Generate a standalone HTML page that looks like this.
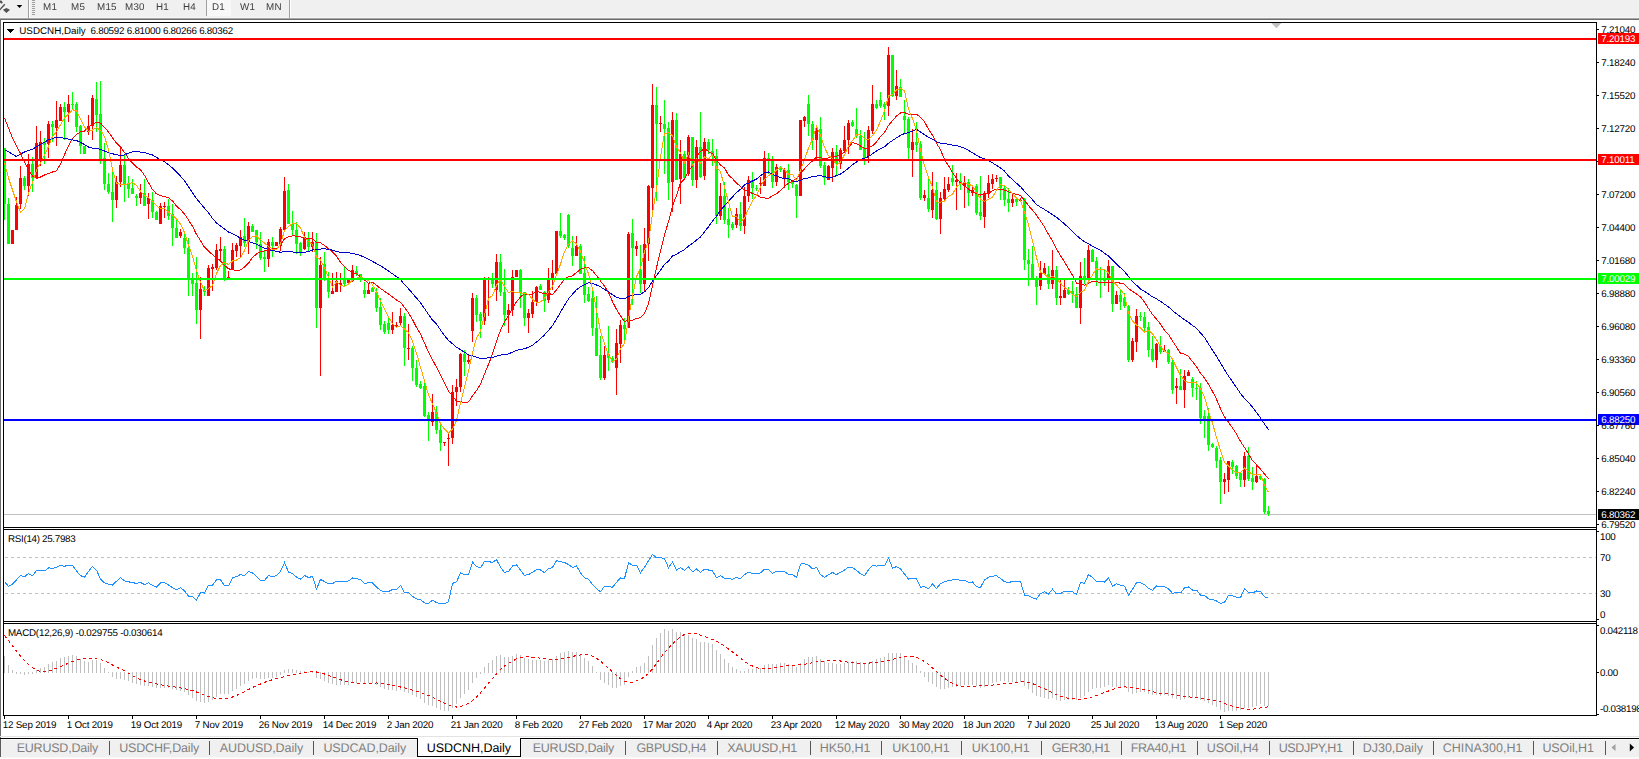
<!DOCTYPE html>
<html><head><meta charset="utf-8"><title>USDCNH,Daily</title>
<style>
html,body{margin:0;padding:0;background:#fff;}
body{width:1639px;height:759px;overflow:hidden;position:relative;font-family:"Liberation Sans",sans-serif;}
svg{position:absolute;left:0;top:0;}
.t{position:absolute;white-space:nowrap;font-family:"Liberation Sans",sans-serif;line-height:13px;text-rendering:geometricPrecision;}
</style></head><body>
<svg width="1639" height="759" viewBox="0 0 1639 759" shape-rendering="crispEdges">
<rect x="0" y="0" width="1639" height="18" fill="#f0f0f0"/>
<rect x="0" y="17" width="1639" height="1" fill="#f7f7f7"/>
<rect x="0" y="18" width="1639" height="1" fill="#a5a5a5"/>
<rect x="0" y="19" width="1639" height="1" fill="#6e6e6e"/>
<rect x="0" y="19" width="1" height="719" fill="#6e6e6e"/>
<rect x="28" y="0" width="1" height="18" fill="#a0a0a0"/>
<rect x="29" y="0" width="1" height="18" fill="#ffffff"/>
<rect x="206" y="0" width="1" height="16" fill="#a0a0a0"/>
<rect x="207" y="0" width="24" height="16" fill="#f8f8f8"/>
<rect x="289" y="0" width="1" height="18" fill="#a0a0a0"/>
<rect x="290" y="0" width="1" height="18" fill="#ffffff"/>
<rect x="32" y="0" width="3" height="1" fill="#a0a0a0"/>
<rect x="32" y="2" width="3" height="1" fill="#a0a0a0"/>
<rect x="32" y="4" width="3" height="1" fill="#a0a0a0"/>
<rect x="32" y="6" width="3" height="1" fill="#a0a0a0"/>
<rect x="32" y="8" width="3" height="1" fill="#a0a0a0"/>
<rect x="32" y="10" width="3" height="1" fill="#a0a0a0"/>
<rect x="32" y="12" width="3" height="1" fill="#a0a0a0"/>
<rect x="32" y="14" width="3" height="1" fill="#a0a0a0"/>
<rect x="4" y="514" width="1592" height="1" fill="#c0c0c0"/>
<path d="M5,557.5 H1596" stroke="#c0c0c0" stroke-width="1" stroke-dasharray="3,3" fill="none"/>
<path d="M5,593.5 H1596" stroke="#c0c0c0" stroke-width="1" stroke-dasharray="3,3" fill="none"/>
<rect x="1597" y="531" width="2" height="1" fill="#000"/>
<rect x="1597" y="619" width="2" height="1" fill="#000"/>
<rect x="1597" y="625" width="2" height="1" fill="#000"/>
<rect x="1597" y="672" width="2" height="1" fill="#000"/>
<rect x="1597" y="714" width="2" height="1" fill="#000"/>
<path d="M7,29 L14,29 L10.5,33 Z" fill="#000"/>
<rect x="4" y="716" width="1" height="3" fill="#000"/>
<rect x="68" y="716" width="1" height="3" fill="#000"/>
<rect x="132" y="716" width="1" height="3" fill="#000"/>
<rect x="196" y="716" width="1" height="3" fill="#000"/>
<rect x="260" y="716" width="1" height="3" fill="#000"/>
<rect x="324" y="716" width="1" height="3" fill="#000"/>
<rect x="388" y="716" width="1" height="3" fill="#000"/>
<rect x="452" y="716" width="1" height="3" fill="#000"/>
<rect x="516" y="716" width="1" height="3" fill="#000"/>
<rect x="580" y="716" width="1" height="3" fill="#000"/>
<rect x="644" y="716" width="1" height="3" fill="#000"/>
<rect x="708" y="716" width="1" height="3" fill="#000"/>
<rect x="772" y="716" width="1" height="3" fill="#000"/>
<rect x="836" y="716" width="1" height="3" fill="#000"/>
<rect x="900" y="716" width="1" height="3" fill="#000"/>
<rect x="964" y="716" width="1" height="3" fill="#000"/>
<rect x="1028" y="716" width="1" height="3" fill="#000"/>
<rect x="1092" y="716" width="1" height="3" fill="#000"/>
<rect x="1156" y="716" width="1" height="3" fill="#000"/>
<rect x="1220" y="716" width="1" height="3" fill="#000"/>
<rect x="0" y="736" width="1639" height="1" fill="#e3e3e3"/>
<rect x="0" y="738" width="1639" height="19" fill="#f0f0f0"/>
<rect x="0" y="738" width="1639" height="1" fill="#000"/>
<rect x="0" y="739" width="1" height="18" fill="#5c5c5c"/>
<rect x="1" y="739" width="1638" height="1" fill="#fafafa"/>
<rect x="417" y="738" width="104" height="19" fill="#fff"/>
<rect x="417" y="738" width="1" height="19" fill="#000"/>
<rect x="520" y="738" width="1" height="19" fill="#000"/>
<rect x="417" y="756" width="104" height="1" fill="#000"/>
<rect x="109" y="741" width="1" height="14" fill="#555"/>
<rect x="209" y="741" width="1" height="14" fill="#555"/>
<rect x="313" y="741" width="1" height="14" fill="#555"/>
<rect x="625" y="741" width="1" height="14" fill="#555"/>
<rect x="717" y="741" width="1" height="14" fill="#555"/>
<rect x="810" y="741" width="1" height="14" fill="#555"/>
<rect x="881" y="741" width="1" height="14" fill="#555"/>
<rect x="961" y="741" width="1" height="14" fill="#555"/>
<rect x="1041" y="741" width="1" height="14" fill="#555"/>
<rect x="1121" y="741" width="1" height="14" fill="#555"/>
<rect x="1197" y="741" width="1" height="14" fill="#555"/>
<rect x="1269" y="741" width="1" height="14" fill="#555"/>
<rect x="1353" y="741" width="1" height="14" fill="#555"/>
<rect x="1433" y="741" width="1" height="14" fill="#555"/>
<rect x="1533" y="741" width="1" height="14" fill="#555"/>
<rect x="1605" y="741" width="1" height="14" fill="#555"/>
<rect x="0" y="757" width="1639" height="1" fill="#f8f8f8"/>
<rect x="0" y="758" width="1639" height="1" fill="#fff"/>
</svg>
<svg width="1639" height="759" viewBox="0 0 1639 759">
<path d="M0,0.6 L1.4,0.6 L2.8,2.6 L1.6,3.8 L0,2.6 Z" fill="#505050"/><path d="M-0.5,10 L4.8,4.3" stroke="#505050" stroke-width="1.4" fill="none"/><path d="M6.4,8.1 L10,9.7 L6.4,13.1 L2.9,9.7 Z" fill="#505050"/>
<path d="M16.7,4.9 L22.3,4.9 L19.5,8.1 Z" fill="#000"/>
<path d="M1271.3,23 L1281.5,23 L1276.4,28.3 Z" fill="#c0c0c0"/>
<path d="M1611.5,747.5 L1615.5,744 L1615.5,751 Z" fill="#a0a0a0"/>
<path d="M1634,747.5 L1629.8,743.5 L1629.8,751.5 Z" fill="#000"/>
<g shape-rendering="crispEdges"><rect x="4" y="148" width="1" height="72" fill="#00ff00"/><rect x="3" y="148" width="3" height="56" fill="#00ff00"/><rect x="8" y="198" width="1" height="46" fill="#00ff00"/><rect x="7" y="204" width="3" height="40" fill="#00ff00"/><rect x="12" y="230" width="1" height="14" fill="#ff0000"/><rect x="11" y="230" width="3" height="14" fill="#ff0000"/><rect x="16" y="197" width="1" height="33" fill="#ff0000"/><rect x="15" y="205" width="3" height="25" fill="#ff0000"/><rect x="20" y="166" width="1" height="43" fill="#ff0000"/><rect x="19" y="178" width="3" height="26" fill="#ff0000"/><rect x="24" y="176" width="1" height="14" fill="#00ff00"/><rect x="23" y="178" width="3" height="8" fill="#00ff00"/><rect x="28" y="154" width="1" height="42" fill="#ff0000"/><rect x="27" y="164" width="3" height="22" fill="#ff0000"/><rect x="32" y="157" width="1" height="35" fill="#00ff00"/><rect x="31" y="164" width="3" height="14" fill="#00ff00"/><rect x="36" y="126" width="1" height="52" fill="#ff0000"/><rect x="35" y="143" width="3" height="35" fill="#ff0000"/><rect x="40" y="131" width="1" height="35" fill="#ff0000"/><rect x="39" y="142" width="3" height="18" fill="#ff0000"/><rect x="44" y="138" width="1" height="26" fill="#00ff00"/><rect x="43" y="142" width="3" height="3" fill="#00ff00"/><rect x="48" y="121" width="1" height="37" fill="#ff0000"/><rect x="47" y="124" width="3" height="20" fill="#ff0000"/><rect x="52" y="121" width="1" height="21" fill="#00ff00"/><rect x="51" y="124" width="3" height="3" fill="#00ff00"/><rect x="56" y="101" width="1" height="45" fill="#ff0000"/><rect x="55" y="120" width="3" height="8" fill="#ff0000"/><rect x="60" y="104" width="1" height="17" fill="#ff0000"/><rect x="59" y="107" width="3" height="14" fill="#ff0000"/><rect x="64" y="102" width="1" height="38" fill="#00ff00"/><rect x="63" y="107" width="3" height="5" fill="#00ff00"/><rect x="68" y="95" width="1" height="27" fill="#ff0000"/><rect x="67" y="104" width="3" height="8" fill="#ff0000"/><rect x="72" y="92" width="1" height="17" fill="#00ff00"/><rect x="71" y="104" width="3" height="1" fill="#00ff00"/><rect x="76" y="102" width="1" height="30" fill="#00ff00"/><rect x="75" y="104" width="3" height="23" fill="#00ff00"/><rect x="80" y="125" width="1" height="29" fill="#00ff00"/><rect x="79" y="126" width="3" height="20" fill="#00ff00"/><rect x="84" y="146" width="1" height="8" fill="#00ff00"/><rect x="83" y="146" width="3" height="8" fill="#00ff00"/><rect x="88" y="115" width="1" height="20" fill="#ff0000"/><rect x="87" y="126" width="3" height="6" fill="#ff0000"/><rect x="92" y="95" width="1" height="45" fill="#ff0000"/><rect x="91" y="98" width="3" height="28" fill="#ff0000"/><rect x="96" y="82" width="1" height="50" fill="#00ff00"/><rect x="95" y="99" width="3" height="16" fill="#00ff00"/><rect x="100" y="81" width="1" height="83" fill="#00ff00"/><rect x="99" y="114" width="3" height="46" fill="#00ff00"/><rect x="104" y="143" width="1" height="47" fill="#00ff00"/><rect x="103" y="158" width="3" height="26" fill="#00ff00"/><rect x="108" y="173" width="1" height="21" fill="#00ff00"/><rect x="107" y="184" width="3" height="8" fill="#00ff00"/><rect x="112" y="171" width="1" height="51" fill="#00ff00"/><rect x="111" y="192" width="3" height="8" fill="#00ff00"/><rect x="116" y="176" width="1" height="32" fill="#ff0000"/><rect x="115" y="182" width="3" height="18" fill="#ff0000"/><rect x="120" y="146" width="1" height="41" fill="#ff0000"/><rect x="119" y="165" width="3" height="17" fill="#ff0000"/><rect x="124" y="154" width="1" height="48" fill="#00ff00"/><rect x="123" y="165" width="3" height="19" fill="#00ff00"/><rect x="128" y="176" width="1" height="22" fill="#00ff00"/><rect x="127" y="184" width="3" height="5" fill="#00ff00"/><rect x="132" y="179" width="1" height="15" fill="#00ff00"/><rect x="131" y="188" width="3" height="6" fill="#00ff00"/><rect x="136" y="194" width="1" height="12" fill="#00ff00"/><rect x="135" y="196" width="3" height="2" fill="#00ff00"/><rect x="140" y="184" width="1" height="20" fill="#ff0000"/><rect x="139" y="193" width="3" height="5" fill="#ff0000"/><rect x="144" y="179" width="1" height="27" fill="#00ff00"/><rect x="143" y="193" width="3" height="13" fill="#00ff00"/><rect x="148" y="193" width="1" height="26" fill="#ff0000"/><rect x="147" y="198" width="3" height="6" fill="#ff0000"/><rect x="152" y="192" width="1" height="26" fill="#00ff00"/><rect x="151" y="200" width="3" height="12" fill="#00ff00"/><rect x="156" y="211" width="1" height="9" fill="#00ff00"/><rect x="155" y="212" width="3" height="8" fill="#00ff00"/><rect x="160" y="203" width="1" height="21" fill="#ff0000"/><rect x="159" y="206" width="3" height="18" fill="#ff0000"/><rect x="164" y="202" width="1" height="16" fill="#ff0000"/><rect x="163" y="206" width="3" height="1" fill="#ff0000"/><rect x="168" y="199" width="1" height="21" fill="#00ff00"/><rect x="167" y="206" width="3" height="10" fill="#00ff00"/><rect x="172" y="204" width="1" height="42" fill="#00ff00"/><rect x="171" y="214" width="3" height="14" fill="#00ff00"/><rect x="176" y="219" width="1" height="19" fill="#00ff00"/><rect x="175" y="228" width="3" height="10" fill="#00ff00"/><rect x="180" y="229" width="1" height="9" fill="#ff0000"/><rect x="179" y="232" width="3" height="4" fill="#ff0000"/><rect x="184" y="234" width="1" height="20" fill="#00ff00"/><rect x="183" y="238" width="3" height="10" fill="#00ff00"/><rect x="188" y="238" width="1" height="58" fill="#00ff00"/><rect x="187" y="248" width="3" height="32" fill="#00ff00"/><rect x="192" y="273" width="1" height="23" fill="#00ff00"/><rect x="191" y="279" width="3" height="5" fill="#00ff00"/><rect x="196" y="257" width="1" height="67" fill="#00ff00"/><rect x="195" y="283" width="3" height="27" fill="#00ff00"/><rect x="200" y="277" width="1" height="62" fill="#ff0000"/><rect x="199" y="289" width="3" height="21" fill="#ff0000"/><rect x="204" y="286" width="1" height="10" fill="#00ff00"/><rect x="203" y="290" width="3" height="2" fill="#00ff00"/><rect x="208" y="265" width="1" height="31" fill="#ff0000"/><rect x="207" y="268" width="3" height="28" fill="#ff0000"/><rect x="212" y="264" width="1" height="27" fill="#ff0000"/><rect x="211" y="267" width="3" height="2" fill="#ff0000"/><rect x="216" y="244" width="1" height="26" fill="#ff0000"/><rect x="215" y="250" width="3" height="18" fill="#ff0000"/><rect x="220" y="237" width="1" height="25" fill="#ff0000"/><rect x="219" y="249" width="3" height="2" fill="#ff0000"/><rect x="224" y="246" width="1" height="35" fill="#00ff00"/><rect x="223" y="249" width="3" height="29" fill="#00ff00"/><rect x="228" y="271" width="1" height="7" fill="#ff0000"/><rect x="227" y="277" width="3" height="1" fill="#ff0000"/><rect x="232" y="243" width="1" height="27" fill="#ff0000"/><rect x="231" y="250" width="3" height="20" fill="#ff0000"/><rect x="236" y="243" width="1" height="14" fill="#ff0000"/><rect x="235" y="245" width="3" height="6" fill="#ff0000"/><rect x="240" y="230" width="1" height="28" fill="#ff0000"/><rect x="239" y="237" width="3" height="9" fill="#ff0000"/><rect x="244" y="218" width="1" height="29" fill="#00ff00"/><rect x="243" y="236" width="3" height="7" fill="#00ff00"/><rect x="248" y="222" width="1" height="32" fill="#ff0000"/><rect x="247" y="226" width="3" height="16" fill="#ff0000"/><rect x="252" y="224" width="1" height="8" fill="#00ff00"/><rect x="251" y="226" width="3" height="6" fill="#00ff00"/><rect x="256" y="230" width="1" height="19" fill="#00ff00"/><rect x="255" y="230" width="3" height="12" fill="#00ff00"/><rect x="260" y="232" width="1" height="28" fill="#00ff00"/><rect x="259" y="244" width="3" height="14" fill="#00ff00"/><rect x="264" y="251" width="1" height="21" fill="#00ff00"/><rect x="263" y="257" width="3" height="2" fill="#00ff00"/><rect x="268" y="239" width="1" height="28" fill="#ff0000"/><rect x="267" y="242" width="3" height="17" fill="#ff0000"/><rect x="272" y="237" width="1" height="20" fill="#00ff00"/><rect x="271" y="242" width="3" height="4" fill="#00ff00"/><rect x="276" y="242" width="1" height="4" fill="#ff0000"/><rect x="275" y="242" width="3" height="4" fill="#ff0000"/><rect x="280" y="227" width="1" height="24" fill="#ff0000"/><rect x="279" y="229" width="3" height="17" fill="#ff0000"/><rect x="284" y="177" width="1" height="53" fill="#ff0000"/><rect x="283" y="191" width="3" height="39" fill="#ff0000"/><rect x="288" y="184" width="1" height="40" fill="#00ff00"/><rect x="287" y="190" width="3" height="34" fill="#00ff00"/><rect x="292" y="211" width="1" height="24" fill="#00ff00"/><rect x="291" y="224" width="3" height="6" fill="#00ff00"/><rect x="296" y="222" width="1" height="32" fill="#00ff00"/><rect x="295" y="230" width="3" height="14" fill="#00ff00"/><rect x="300" y="242" width="1" height="14" fill="#00ff00"/><rect x="299" y="243" width="3" height="9" fill="#00ff00"/><rect x="304" y="232" width="1" height="18" fill="#ff0000"/><rect x="303" y="237" width="3" height="12" fill="#ff0000"/><rect x="308" y="232" width="1" height="19" fill="#00ff00"/><rect x="307" y="239" width="3" height="8" fill="#00ff00"/><rect x="312" y="232" width="1" height="20" fill="#ff0000"/><rect x="311" y="242" width="3" height="5" fill="#ff0000"/><rect x="316" y="233" width="1" height="95" fill="#00ff00"/><rect x="315" y="242" width="3" height="66" fill="#00ff00"/><rect x="320" y="257" width="1" height="119" fill="#ff0000"/><rect x="319" y="265" width="3" height="43" fill="#ff0000"/><rect x="324" y="252" width="1" height="29" fill="#00ff00"/><rect x="323" y="264" width="3" height="15" fill="#00ff00"/><rect x="328" y="272" width="1" height="26" fill="#00ff00"/><rect x="327" y="280" width="3" height="12" fill="#00ff00"/><rect x="332" y="273" width="1" height="21" fill="#ff0000"/><rect x="331" y="291" width="3" height="3" fill="#ff0000"/><rect x="336" y="272" width="1" height="20" fill="#ff0000"/><rect x="335" y="281" width="3" height="11" fill="#ff0000"/><rect x="340" y="273" width="1" height="19" fill="#ff0000"/><rect x="339" y="283" width="3" height="2" fill="#ff0000"/><rect x="344" y="266" width="1" height="21" fill="#00ff00"/><rect x="343" y="280" width="3" height="4" fill="#00ff00"/><rect x="348" y="278" width="1" height="5" fill="#ff0000"/><rect x="347" y="280" width="3" height="3" fill="#ff0000"/><rect x="352" y="265" width="1" height="17" fill="#ff0000"/><rect x="351" y="270" width="3" height="11" fill="#ff0000"/><rect x="356" y="266" width="1" height="10" fill="#00ff00"/><rect x="355" y="271" width="3" height="3" fill="#00ff00"/><rect x="360" y="274" width="1" height="8" fill="#00ff00"/><rect x="359" y="274" width="3" height="3" fill="#00ff00"/><rect x="364" y="282" width="1" height="16" fill="#00ff00"/><rect x="363" y="290" width="3" height="4" fill="#00ff00"/><rect x="368" y="283" width="1" height="11" fill="#ff0000"/><rect x="367" y="290" width="3" height="4" fill="#ff0000"/><rect x="372" y="287" width="1" height="5" fill="#00ff00"/><rect x="371" y="288" width="3" height="4" fill="#00ff00"/><rect x="376" y="288" width="1" height="24" fill="#00ff00"/><rect x="375" y="292" width="3" height="16" fill="#00ff00"/><rect x="380" y="298" width="1" height="32" fill="#00ff00"/><rect x="379" y="307" width="3" height="18" fill="#00ff00"/><rect x="384" y="321" width="1" height="13" fill="#00ff00"/><rect x="383" y="324" width="3" height="8" fill="#00ff00"/><rect x="388" y="316" width="1" height="18" fill="#00ff00"/><rect x="387" y="323" width="3" height="7" fill="#00ff00"/><rect x="392" y="312" width="1" height="22" fill="#ff0000"/><rect x="391" y="325" width="3" height="5" fill="#ff0000"/><rect x="396" y="322" width="1" height="6" fill="#ff0000"/><rect x="395" y="325" width="3" height="1" fill="#ff0000"/><rect x="400" y="308" width="1" height="18" fill="#ff0000"/><rect x="399" y="316" width="3" height="7" fill="#ff0000"/><rect x="404" y="313" width="1" height="53" fill="#00ff00"/><rect x="403" y="316" width="3" height="32" fill="#00ff00"/><rect x="408" y="324" width="1" height="36" fill="#ff0000"/><rect x="407" y="348" width="3" height="1" fill="#ff0000"/><rect x="412" y="346" width="1" height="35" fill="#00ff00"/><rect x="411" y="348" width="3" height="20" fill="#00ff00"/><rect x="416" y="360" width="1" height="27" fill="#00ff00"/><rect x="415" y="368" width="3" height="17" fill="#00ff00"/><rect x="420" y="381" width="1" height="8" fill="#00ff00"/><rect x="419" y="384" width="3" height="4" fill="#00ff00"/><rect x="424" y="382" width="1" height="35" fill="#00ff00"/><rect x="423" y="386" width="3" height="30" fill="#00ff00"/><rect x="428" y="412" width="1" height="29" fill="#00ff00"/><rect x="427" y="415" width="3" height="5" fill="#00ff00"/><rect x="432" y="394" width="1" height="32" fill="#ff0000"/><rect x="431" y="412" width="3" height="10" fill="#ff0000"/><rect x="436" y="406" width="1" height="28" fill="#00ff00"/><rect x="435" y="412" width="3" height="18" fill="#00ff00"/><rect x="440" y="425" width="1" height="26" fill="#00ff00"/><rect x="439" y="430" width="3" height="13" fill="#00ff00"/><rect x="444" y="442" width="1" height="4" fill="#ff0000"/><rect x="443" y="442" width="3" height="1" fill="#ff0000"/><rect x="448" y="432" width="1" height="34" fill="#ff0000"/><rect x="447" y="438" width="3" height="1" fill="#ff0000"/><rect x="452" y="385" width="1" height="59" fill="#ff0000"/><rect x="451" y="392" width="3" height="46" fill="#ff0000"/><rect x="456" y="379" width="1" height="27" fill="#ff0000"/><rect x="455" y="387" width="3" height="5" fill="#ff0000"/><rect x="460" y="353" width="1" height="39" fill="#ff0000"/><rect x="459" y="354" width="3" height="33" fill="#ff0000"/><rect x="464" y="350" width="1" height="26" fill="#00ff00"/><rect x="463" y="354" width="3" height="8" fill="#00ff00"/><rect x="468" y="355" width="1" height="9" fill="#ff0000"/><rect x="467" y="360" width="3" height="2" fill="#ff0000"/><rect x="472" y="293" width="1" height="49" fill="#ff0000"/><rect x="471" y="298" width="3" height="33" fill="#ff0000"/><rect x="476" y="295" width="1" height="27" fill="#00ff00"/><rect x="475" y="298" width="3" height="17" fill="#00ff00"/><rect x="480" y="312" width="1" height="26" fill="#00ff00"/><rect x="479" y="314" width="3" height="7" fill="#00ff00"/><rect x="484" y="277" width="1" height="48" fill="#ff0000"/><rect x="483" y="280" width="3" height="41" fill="#ff0000"/><rect x="488" y="277" width="1" height="39" fill="#ff0000"/><rect x="487" y="279" width="3" height="1" fill="#ff0000"/><rect x="492" y="273" width="1" height="15" fill="#00ff00"/><rect x="491" y="279" width="3" height="5" fill="#00ff00"/><rect x="496" y="254" width="1" height="47" fill="#ff0000"/><rect x="495" y="262" width="3" height="28" fill="#ff0000"/><rect x="500" y="254" width="1" height="42" fill="#00ff00"/><rect x="499" y="262" width="3" height="30" fill="#00ff00"/><rect x="504" y="269" width="1" height="57" fill="#00ff00"/><rect x="503" y="292" width="3" height="23" fill="#00ff00"/><rect x="508" y="304" width="1" height="29" fill="#ff0000"/><rect x="507" y="310" width="3" height="5" fill="#ff0000"/><rect x="512" y="270" width="1" height="46" fill="#ff0000"/><rect x="511" y="277" width="3" height="33" fill="#ff0000"/><rect x="516" y="270" width="1" height="7" fill="#ff0000"/><rect x="515" y="270" width="3" height="7" fill="#ff0000"/><rect x="520" y="269" width="1" height="39" fill="#00ff00"/><rect x="519" y="270" width="3" height="23" fill="#00ff00"/><rect x="524" y="292" width="1" height="34" fill="#00ff00"/><rect x="523" y="292" width="3" height="26" fill="#00ff00"/><rect x="528" y="309" width="1" height="24" fill="#ff0000"/><rect x="527" y="313" width="3" height="5" fill="#ff0000"/><rect x="532" y="291" width="1" height="27" fill="#ff0000"/><rect x="531" y="302" width="3" height="12" fill="#ff0000"/><rect x="536" y="286" width="1" height="20" fill="#ff0000"/><rect x="535" y="287" width="3" height="15" fill="#ff0000"/><rect x="540" y="284" width="1" height="6" fill="#00ff00"/><rect x="539" y="286" width="3" height="4" fill="#00ff00"/><rect x="544" y="291" width="1" height="21" fill="#00ff00"/><rect x="543" y="292" width="3" height="9" fill="#00ff00"/><rect x="548" y="268" width="1" height="35" fill="#ff0000"/><rect x="547" y="280" width="3" height="20" fill="#ff0000"/><rect x="552" y="260" width="1" height="30" fill="#ff0000"/><rect x="551" y="273" width="3" height="7" fill="#ff0000"/><rect x="556" y="231" width="1" height="43" fill="#ff0000"/><rect x="555" y="231" width="3" height="43" fill="#ff0000"/><rect x="560" y="213" width="1" height="25" fill="#00ff00"/><rect x="559" y="231" width="3" height="5" fill="#00ff00"/><rect x="564" y="234" width="1" height="6" fill="#00ff00"/><rect x="563" y="235" width="3" height="3" fill="#00ff00"/><rect x="568" y="214" width="1" height="34" fill="#00ff00"/><rect x="567" y="215" width="3" height="31" fill="#00ff00"/><rect x="572" y="236" width="1" height="30" fill="#00ff00"/><rect x="571" y="248" width="3" height="8" fill="#00ff00"/><rect x="576" y="236" width="1" height="20" fill="#ff0000"/><rect x="575" y="246" width="3" height="10" fill="#ff0000"/><rect x="580" y="244" width="1" height="30" fill="#00ff00"/><rect x="579" y="246" width="3" height="28" fill="#00ff00"/><rect x="584" y="256" width="1" height="47" fill="#00ff00"/><rect x="583" y="273" width="3" height="22" fill="#00ff00"/><rect x="588" y="287" width="1" height="15" fill="#00ff00"/><rect x="587" y="294" width="3" height="7" fill="#00ff00"/><rect x="592" y="290" width="1" height="46" fill="#00ff00"/><rect x="591" y="298" width="3" height="30" fill="#00ff00"/><rect x="596" y="296" width="1" height="60" fill="#00ff00"/><rect x="595" y="328" width="3" height="28" fill="#00ff00"/><rect x="600" y="336" width="1" height="44" fill="#00ff00"/><rect x="599" y="355" width="3" height="23" fill="#00ff00"/><rect x="604" y="346" width="1" height="34" fill="#ff0000"/><rect x="603" y="355" width="3" height="23" fill="#ff0000"/><rect x="608" y="326" width="1" height="45" fill="#00ff00"/><rect x="607" y="354" width="3" height="4" fill="#00ff00"/><rect x="612" y="356" width="1" height="7" fill="#00ff00"/><rect x="611" y="358" width="3" height="4" fill="#00ff00"/><rect x="616" y="329" width="1" height="66" fill="#ff0000"/><rect x="615" y="343" width="3" height="25" fill="#ff0000"/><rect x="620" y="320" width="1" height="43" fill="#ff0000"/><rect x="619" y="325" width="3" height="19" fill="#ff0000"/><rect x="624" y="318" width="1" height="22" fill="#00ff00"/><rect x="623" y="325" width="3" height="4" fill="#00ff00"/><rect x="628" y="232" width="1" height="96" fill="#ff0000"/><rect x="627" y="234" width="3" height="94" fill="#ff0000"/><rect x="632" y="219" width="1" height="86" fill="#00ff00"/><rect x="631" y="233" width="3" height="15" fill="#00ff00"/><rect x="636" y="241" width="1" height="15" fill="#ff0000"/><rect x="635" y="246" width="3" height="3" fill="#ff0000"/><rect x="640" y="245" width="1" height="48" fill="#00ff00"/><rect x="639" y="270" width="3" height="14" fill="#00ff00"/><rect x="644" y="228" width="1" height="63" fill="#ff0000"/><rect x="643" y="244" width="3" height="40" fill="#ff0000"/><rect x="648" y="185" width="1" height="76" fill="#ff0000"/><rect x="647" y="186" width="3" height="58" fill="#ff0000"/><rect x="652" y="84" width="1" height="126" fill="#ff0000"/><rect x="651" y="105" width="3" height="83" fill="#ff0000"/><rect x="656" y="87" width="1" height="114" fill="#00ff00"/><rect x="655" y="105" width="3" height="19" fill="#00ff00"/><rect x="660" y="116" width="1" height="16" fill="#ff0000"/><rect x="659" y="123" width="3" height="1" fill="#ff0000"/><rect x="664" y="100" width="1" height="74" fill="#00ff00"/><rect x="663" y="124" width="3" height="5" fill="#00ff00"/><rect x="668" y="122" width="1" height="78" fill="#00ff00"/><rect x="667" y="128" width="3" height="55" fill="#00ff00"/><rect x="672" y="112" width="1" height="100" fill="#ff0000"/><rect x="671" y="120" width="3" height="62" fill="#ff0000"/><rect x="676" y="113" width="1" height="67" fill="#00ff00"/><rect x="675" y="120" width="3" height="60" fill="#00ff00"/><rect x="680" y="140" width="1" height="64" fill="#ff0000"/><rect x="679" y="154" width="3" height="25" fill="#ff0000"/><rect x="684" y="151" width="1" height="27" fill="#00ff00"/><rect x="683" y="154" width="3" height="24" fill="#00ff00"/><rect x="688" y="135" width="1" height="41" fill="#ff0000"/><rect x="687" y="137" width="3" height="37" fill="#ff0000"/><rect x="692" y="137" width="1" height="49" fill="#00ff00"/><rect x="691" y="137" width="3" height="43" fill="#00ff00"/><rect x="696" y="140" width="1" height="48" fill="#ff0000"/><rect x="695" y="147" width="3" height="33" fill="#ff0000"/><rect x="700" y="112" width="1" height="66" fill="#00ff00"/><rect x="699" y="147" width="3" height="30" fill="#00ff00"/><rect x="704" y="138" width="1" height="42" fill="#ff0000"/><rect x="703" y="142" width="3" height="34" fill="#ff0000"/><rect x="708" y="139" width="1" height="15" fill="#00ff00"/><rect x="707" y="142" width="3" height="8" fill="#00ff00"/><rect x="712" y="139" width="1" height="27" fill="#00ff00"/><rect x="711" y="151" width="3" height="5" fill="#00ff00"/><rect x="716" y="149" width="1" height="75" fill="#00ff00"/><rect x="715" y="156" width="3" height="60" fill="#00ff00"/><rect x="720" y="183" width="1" height="37" fill="#ff0000"/><rect x="719" y="196" width="3" height="20" fill="#ff0000"/><rect x="724" y="182" width="1" height="42" fill="#00ff00"/><rect x="723" y="196" width="3" height="24" fill="#00ff00"/><rect x="728" y="208" width="1" height="30" fill="#00ff00"/><rect x="727" y="219" width="3" height="6" fill="#00ff00"/><rect x="732" y="222" width="1" height="8" fill="#00ff00"/><rect x="731" y="224" width="3" height="4" fill="#00ff00"/><rect x="736" y="208" width="1" height="20" fill="#ff0000"/><rect x="735" y="214" width="3" height="11" fill="#ff0000"/><rect x="740" y="202" width="1" height="29" fill="#00ff00"/><rect x="739" y="214" width="3" height="12" fill="#00ff00"/><rect x="744" y="187" width="1" height="47" fill="#ff0000"/><rect x="743" y="196" width="3" height="30" fill="#ff0000"/><rect x="748" y="176" width="1" height="26" fill="#ff0000"/><rect x="747" y="180" width="3" height="16" fill="#ff0000"/><rect x="752" y="172" width="1" height="27" fill="#00ff00"/><rect x="751" y="180" width="3" height="8" fill="#00ff00"/><rect x="756" y="185" width="1" height="6" fill="#00ff00"/><rect x="755" y="188" width="3" height="1" fill="#00ff00"/><rect x="760" y="177" width="1" height="17" fill="#ff0000"/><rect x="759" y="183" width="3" height="1" fill="#ff0000"/><rect x="764" y="151" width="1" height="35" fill="#ff0000"/><rect x="763" y="158" width="3" height="28" fill="#ff0000"/><rect x="768" y="153" width="1" height="21" fill="#00ff00"/><rect x="767" y="158" width="3" height="2" fill="#00ff00"/><rect x="772" y="156" width="1" height="32" fill="#00ff00"/><rect x="771" y="161" width="3" height="21" fill="#00ff00"/><rect x="776" y="164" width="1" height="22" fill="#ff0000"/><rect x="775" y="167" width="3" height="15" fill="#ff0000"/><rect x="780" y="166" width="1" height="6" fill="#00ff00"/><rect x="779" y="168" width="3" height="2" fill="#00ff00"/><rect x="784" y="168" width="1" height="20" fill="#ff0000"/><rect x="783" y="170" width="3" height="8" fill="#ff0000"/><rect x="788" y="164" width="1" height="26" fill="#00ff00"/><rect x="787" y="170" width="3" height="12" fill="#00ff00"/><rect x="792" y="180" width="1" height="8" fill="#00ff00"/><rect x="791" y="182" width="3" height="2" fill="#00ff00"/><rect x="796" y="184" width="1" height="34" fill="#00ff00"/><rect x="795" y="185" width="3" height="11" fill="#00ff00"/><rect x="800" y="120" width="1" height="76" fill="#ff0000"/><rect x="799" y="120" width="3" height="76" fill="#ff0000"/><rect x="804" y="116" width="1" height="11" fill="#ff0000"/><rect x="803" y="117" width="3" height="4" fill="#ff0000"/><rect x="808" y="95" width="1" height="41" fill="#00ff00"/><rect x="807" y="104" width="3" height="20" fill="#00ff00"/><rect x="812" y="121" width="1" height="29" fill="#00ff00"/><rect x="811" y="124" width="3" height="16" fill="#00ff00"/><rect x="816" y="125" width="1" height="35" fill="#ff0000"/><rect x="815" y="130" width="3" height="10" fill="#ff0000"/><rect x="820" y="117" width="1" height="51" fill="#00ff00"/><rect x="819" y="129" width="3" height="37" fill="#00ff00"/><rect x="824" y="162" width="1" height="23" fill="#00ff00"/><rect x="823" y="165" width="3" height="13" fill="#00ff00"/><rect x="828" y="165" width="1" height="15" fill="#ff0000"/><rect x="827" y="166" width="3" height="14" fill="#ff0000"/><rect x="832" y="148" width="1" height="34" fill="#ff0000"/><rect x="831" y="152" width="3" height="16" fill="#ff0000"/><rect x="836" y="145" width="1" height="31" fill="#00ff00"/><rect x="835" y="152" width="3" height="12" fill="#00ff00"/><rect x="840" y="148" width="1" height="21" fill="#ff0000"/><rect x="839" y="150" width="3" height="14" fill="#ff0000"/><rect x="844" y="126" width="1" height="27" fill="#ff0000"/><rect x="843" y="140" width="3" height="11" fill="#ff0000"/><rect x="848" y="120" width="1" height="34" fill="#ff0000"/><rect x="847" y="123" width="3" height="17" fill="#ff0000"/><rect x="852" y="120" width="1" height="7" fill="#00ff00"/><rect x="851" y="122" width="3" height="4" fill="#00ff00"/><rect x="856" y="108" width="1" height="30" fill="#00ff00"/><rect x="855" y="129" width="3" height="7" fill="#00ff00"/><rect x="860" y="130" width="1" height="20" fill="#00ff00"/><rect x="859" y="136" width="3" height="14" fill="#00ff00"/><rect x="864" y="132" width="1" height="33" fill="#00ff00"/><rect x="863" y="148" width="3" height="10" fill="#00ff00"/><rect x="868" y="126" width="1" height="37" fill="#ff0000"/><rect x="867" y="130" width="3" height="26" fill="#ff0000"/><rect x="872" y="85" width="1" height="49" fill="#ff0000"/><rect x="871" y="104" width="3" height="27" fill="#ff0000"/><rect x="876" y="100" width="1" height="9" fill="#00ff00"/><rect x="875" y="104" width="3" height="4" fill="#00ff00"/><rect x="880" y="92" width="1" height="16" fill="#00ff00"/><rect x="879" y="100" width="3" height="6" fill="#00ff00"/><rect x="884" y="102" width="1" height="18" fill="#00ff00"/><rect x="883" y="104" width="3" height="3" fill="#00ff00"/><rect x="888" y="47" width="1" height="69" fill="#ff0000"/><rect x="887" y="55" width="3" height="51" fill="#ff0000"/><rect x="892" y="55" width="1" height="42" fill="#00ff00"/><rect x="891" y="55" width="3" height="41" fill="#00ff00"/><rect x="896" y="70" width="1" height="30" fill="#ff0000"/><rect x="895" y="86" width="3" height="10" fill="#ff0000"/><rect x="900" y="79" width="1" height="18" fill="#00ff00"/><rect x="899" y="87" width="3" height="10" fill="#00ff00"/><rect x="904" y="100" width="1" height="33" fill="#00ff00"/><rect x="903" y="116" width="3" height="4" fill="#00ff00"/><rect x="908" y="117" width="1" height="42" fill="#00ff00"/><rect x="907" y="119" width="3" height="29" fill="#00ff00"/><rect x="912" y="129" width="1" height="48" fill="#ff0000"/><rect x="911" y="142" width="3" height="8" fill="#ff0000"/><rect x="916" y="122" width="1" height="30" fill="#00ff00"/><rect x="915" y="142" width="3" height="3" fill="#00ff00"/><rect x="920" y="141" width="1" height="59" fill="#00ff00"/><rect x="919" y="144" width="3" height="54" fill="#00ff00"/><rect x="924" y="190" width="1" height="11" fill="#ff0000"/><rect x="923" y="195" width="3" height="3" fill="#ff0000"/><rect x="928" y="179" width="1" height="33" fill="#00ff00"/><rect x="927" y="198" width="3" height="11" fill="#00ff00"/><rect x="932" y="172" width="1" height="46" fill="#ff0000"/><rect x="931" y="190" width="3" height="20" fill="#ff0000"/><rect x="936" y="182" width="1" height="38" fill="#00ff00"/><rect x="935" y="190" width="3" height="29" fill="#00ff00"/><rect x="940" y="192" width="1" height="42" fill="#ff0000"/><rect x="939" y="198" width="3" height="21" fill="#ff0000"/><rect x="944" y="177" width="1" height="23" fill="#ff0000"/><rect x="943" y="189" width="3" height="10" fill="#ff0000"/><rect x="948" y="177" width="1" height="15" fill="#ff0000"/><rect x="947" y="184" width="3" height="6" fill="#ff0000"/><rect x="952" y="165" width="1" height="21" fill="#00ff00"/><rect x="951" y="178" width="3" height="4" fill="#00ff00"/><rect x="956" y="173" width="1" height="37" fill="#ff0000"/><rect x="955" y="180" width="3" height="2" fill="#ff0000"/><rect x="960" y="173" width="1" height="17" fill="#00ff00"/><rect x="959" y="181" width="3" height="3" fill="#00ff00"/><rect x="964" y="176" width="1" height="32" fill="#ff0000"/><rect x="963" y="183" width="3" height="3" fill="#ff0000"/><rect x="968" y="179" width="1" height="27" fill="#00ff00"/><rect x="967" y="182" width="3" height="11" fill="#00ff00"/><rect x="972" y="186" width="1" height="10" fill="#ff0000"/><rect x="971" y="190" width="3" height="3" fill="#ff0000"/><rect x="976" y="184" width="1" height="31" fill="#00ff00"/><rect x="975" y="186" width="3" height="27" fill="#00ff00"/><rect x="980" y="176" width="1" height="44" fill="#00ff00"/><rect x="979" y="212" width="3" height="4" fill="#00ff00"/><rect x="984" y="191" width="1" height="37" fill="#ff0000"/><rect x="983" y="193" width="3" height="24" fill="#ff0000"/><rect x="988" y="175" width="1" height="23" fill="#ff0000"/><rect x="987" y="183" width="3" height="11" fill="#ff0000"/><rect x="992" y="174" width="1" height="15" fill="#ff0000"/><rect x="991" y="179" width="3" height="5" fill="#ff0000"/><rect x="996" y="175" width="1" height="7" fill="#ff0000"/><rect x="995" y="178" width="3" height="1" fill="#ff0000"/><rect x="1000" y="177" width="1" height="23" fill="#00ff00"/><rect x="999" y="177" width="3" height="11" fill="#00ff00"/><rect x="1004" y="186" width="1" height="20" fill="#00ff00"/><rect x="1003" y="188" width="3" height="12" fill="#00ff00"/><rect x="1008" y="188" width="1" height="24" fill="#00ff00"/><rect x="1007" y="199" width="3" height="4" fill="#00ff00"/><rect x="1012" y="194" width="1" height="13" fill="#ff0000"/><rect x="1011" y="199" width="3" height="4" fill="#ff0000"/><rect x="1016" y="197" width="1" height="9" fill="#00ff00"/><rect x="1015" y="199" width="3" height="3" fill="#00ff00"/><rect x="1020" y="198" width="1" height="4" fill="#ff0000"/><rect x="1019" y="200" width="3" height="1" fill="#ff0000"/><rect x="1024" y="198" width="1" height="72" fill="#00ff00"/><rect x="1023" y="199" width="3" height="61" fill="#00ff00"/><rect x="1028" y="249" width="1" height="37" fill="#00ff00"/><rect x="1027" y="260" width="3" height="4" fill="#00ff00"/><rect x="1032" y="246" width="1" height="34" fill="#00ff00"/><rect x="1031" y="264" width="3" height="14" fill="#00ff00"/><rect x="1036" y="276" width="1" height="29" fill="#00ff00"/><rect x="1035" y="279" width="3" height="8" fill="#00ff00"/><rect x="1040" y="261" width="1" height="29" fill="#ff0000"/><rect x="1039" y="273" width="3" height="13" fill="#ff0000"/><rect x="1044" y="263" width="1" height="11" fill="#ff0000"/><rect x="1043" y="268" width="3" height="6" fill="#ff0000"/><rect x="1048" y="266" width="1" height="23" fill="#00ff00"/><rect x="1047" y="274" width="3" height="10" fill="#00ff00"/><rect x="1052" y="250" width="1" height="39" fill="#ff0000"/><rect x="1051" y="270" width="3" height="14" fill="#ff0000"/><rect x="1056" y="266" width="1" height="39" fill="#00ff00"/><rect x="1055" y="270" width="3" height="28" fill="#00ff00"/><rect x="1060" y="280" width="1" height="25" fill="#ff0000"/><rect x="1059" y="296" width="3" height="2" fill="#ff0000"/><rect x="1064" y="278" width="1" height="20" fill="#ff0000"/><rect x="1063" y="290" width="3" height="8" fill="#ff0000"/><rect x="1068" y="287" width="1" height="8" fill="#00ff00"/><rect x="1067" y="290" width="3" height="4" fill="#00ff00"/><rect x="1072" y="281" width="1" height="22" fill="#00ff00"/><rect x="1071" y="291" width="3" height="3" fill="#00ff00"/><rect x="1076" y="287" width="1" height="21" fill="#00ff00"/><rect x="1075" y="294" width="3" height="14" fill="#00ff00"/><rect x="1080" y="262" width="1" height="62" fill="#ff0000"/><rect x="1079" y="276" width="3" height="32" fill="#ff0000"/><rect x="1084" y="258" width="1" height="26" fill="#00ff00"/><rect x="1083" y="276" width="3" height="4" fill="#00ff00"/><rect x="1088" y="245" width="1" height="33" fill="#ff0000"/><rect x="1087" y="250" width="3" height="28" fill="#ff0000"/><rect x="1092" y="249" width="1" height="13" fill="#00ff00"/><rect x="1091" y="250" width="3" height="12" fill="#00ff00"/><rect x="1096" y="257" width="1" height="29" fill="#00ff00"/><rect x="1095" y="261" width="3" height="17" fill="#00ff00"/><rect x="1100" y="267" width="1" height="31" fill="#00ff00"/><rect x="1099" y="278" width="3" height="2" fill="#00ff00"/><rect x="1104" y="270" width="1" height="16" fill="#00ff00"/><rect x="1103" y="278" width="3" height="3" fill="#00ff00"/><rect x="1108" y="260" width="1" height="32" fill="#ff0000"/><rect x="1107" y="266" width="3" height="12" fill="#ff0000"/><rect x="1112" y="266" width="1" height="46" fill="#00ff00"/><rect x="1111" y="266" width="3" height="38" fill="#00ff00"/><rect x="1116" y="291" width="1" height="13" fill="#ff0000"/><rect x="1115" y="295" width="3" height="9" fill="#ff0000"/><rect x="1120" y="290" width="1" height="20" fill="#00ff00"/><rect x="1119" y="295" width="3" height="7" fill="#00ff00"/><rect x="1124" y="293" width="1" height="15" fill="#00ff00"/><rect x="1123" y="298" width="3" height="8" fill="#00ff00"/><rect x="1128" y="305" width="1" height="57" fill="#00ff00"/><rect x="1127" y="306" width="3" height="54" fill="#00ff00"/><rect x="1132" y="338" width="1" height="24" fill="#ff0000"/><rect x="1131" y="341" width="3" height="19" fill="#ff0000"/><rect x="1136" y="309" width="1" height="43" fill="#ff0000"/><rect x="1135" y="316" width="3" height="26" fill="#ff0000"/><rect x="1140" y="312" width="1" height="9" fill="#00ff00"/><rect x="1139" y="316" width="3" height="1" fill="#00ff00"/><rect x="1144" y="312" width="1" height="20" fill="#00ff00"/><rect x="1143" y="317" width="3" height="11" fill="#00ff00"/><rect x="1148" y="322" width="1" height="35" fill="#00ff00"/><rect x="1147" y="327" width="3" height="23" fill="#00ff00"/><rect x="1152" y="336" width="1" height="26" fill="#00ff00"/><rect x="1151" y="349" width="3" height="11" fill="#00ff00"/><rect x="1156" y="343" width="1" height="25" fill="#ff0000"/><rect x="1155" y="344" width="3" height="16" fill="#ff0000"/><rect x="1160" y="336" width="1" height="18" fill="#00ff00"/><rect x="1159" y="346" width="3" height="6" fill="#00ff00"/><rect x="1164" y="345" width="1" height="7" fill="#ff0000"/><rect x="1163" y="350" width="3" height="2" fill="#ff0000"/><rect x="1168" y="349" width="1" height="15" fill="#00ff00"/><rect x="1167" y="350" width="3" height="12" fill="#00ff00"/><rect x="1172" y="360" width="1" height="34" fill="#00ff00"/><rect x="1171" y="362" width="3" height="28" fill="#00ff00"/><rect x="1176" y="378" width="1" height="26" fill="#ff0000"/><rect x="1175" y="386" width="3" height="2" fill="#ff0000"/><rect x="1180" y="369" width="1" height="21" fill="#00ff00"/><rect x="1179" y="386" width="3" height="4" fill="#00ff00"/><rect x="1184" y="370" width="1" height="38" fill="#ff0000"/><rect x="1183" y="376" width="3" height="14" fill="#ff0000"/><rect x="1188" y="370" width="1" height="6" fill="#ff0000"/><rect x="1187" y="372" width="3" height="4" fill="#ff0000"/><rect x="1192" y="377" width="1" height="20" fill="#00ff00"/><rect x="1191" y="379" width="3" height="9" fill="#00ff00"/><rect x="1196" y="381" width="1" height="19" fill="#00ff00"/><rect x="1195" y="388" width="3" height="1" fill="#00ff00"/><rect x="1200" y="383" width="1" height="41" fill="#00ff00"/><rect x="1199" y="388" width="3" height="30" fill="#00ff00"/><rect x="1204" y="410" width="1" height="28" fill="#00ff00"/><rect x="1203" y="416" width="3" height="3" fill="#00ff00"/><rect x="1208" y="408" width="1" height="43" fill="#00ff00"/><rect x="1207" y="416" width="3" height="29" fill="#00ff00"/><rect x="1212" y="443" width="1" height="5" fill="#00ff00"/><rect x="1211" y="444" width="3" height="3" fill="#00ff00"/><rect x="1216" y="446" width="1" height="22" fill="#00ff00"/><rect x="1215" y="448" width="3" height="13" fill="#00ff00"/><rect x="1220" y="457" width="1" height="47" fill="#00ff00"/><rect x="1219" y="460" width="3" height="22" fill="#00ff00"/><rect x="1224" y="473" width="1" height="21" fill="#ff0000"/><rect x="1223" y="479" width="3" height="3" fill="#ff0000"/><rect x="1228" y="461" width="1" height="31" fill="#ff0000"/><rect x="1227" y="461" width="3" height="19" fill="#ff0000"/><rect x="1232" y="460" width="1" height="14" fill="#00ff00"/><rect x="1231" y="462" width="3" height="5" fill="#00ff00"/><rect x="1236" y="465" width="1" height="14" fill="#00ff00"/><rect x="1235" y="466" width="3" height="10" fill="#00ff00"/><rect x="1240" y="472" width="1" height="15" fill="#00ff00"/><rect x="1239" y="473" width="3" height="7" fill="#00ff00"/><rect x="1244" y="452" width="1" height="35" fill="#ff0000"/><rect x="1243" y="456" width="3" height="24" fill="#ff0000"/><rect x="1248" y="447" width="1" height="34" fill="#00ff00"/><rect x="1247" y="456" width="3" height="23" fill="#00ff00"/><rect x="1252" y="467" width="1" height="23" fill="#00ff00"/><rect x="1251" y="478" width="3" height="4" fill="#00ff00"/><rect x="1256" y="465" width="1" height="18" fill="#ff0000"/><rect x="1255" y="476" width="3" height="6" fill="#ff0000"/><rect x="1260" y="476" width="1" height="4" fill="#00ff00"/><rect x="1259" y="476" width="3" height="3" fill="#00ff00"/><rect x="1264" y="478" width="1" height="36" fill="#00ff00"/><rect x="1263" y="479" width="3" height="33" fill="#00ff00"/><rect x="1268" y="506" width="1" height="10" fill="#00ff00"/><rect x="1267" y="511" width="3" height="3" fill="#00ff00"/></g>
<g>
<polyline points="4.5,149.8 8.5,151.9 12.5,154.2 16.5,156.5 20.5,154.1 24.5,152.0 28.5,150.6 32.5,149.3 36.5,146.9 40.5,144.4 44.5,142.1 48.5,139.9 52.5,138.4 56.5,137.5 60.5,137.5 64.5,138.2 68.5,139.2 72.5,139.9 76.5,140.5 80.5,142.4 84.5,144.6 88.5,147.0 92.5,148.1 96.5,148.4 100.5,149.3 104.5,151.0 108.5,152.4 112.5,153.8 116.5,154.7 120.5,155.6 124.5,154.9 128.5,153.1 132.5,151.8 136.5,151.6 140.5,152.1 144.5,152.7 148.5,153.8 152.5,155.0 156.5,157.5 160.5,159.7 164.5,161.7 168.5,164.8 172.5,168.1 176.5,172.0 180.5,176.2 184.5,180.8 188.5,186.6 192.5,192.6 196.5,198.7 200.5,203.4 204.5,208.1 208.5,212.8 212.5,218.4 216.5,223.0 220.5,226.0 224.5,229.1 228.5,232.0 232.5,233.7 236.5,235.8 240.5,238.2 244.5,240.1 248.5,241.4 252.5,242.7 256.5,244.1 260.5,246.3 264.5,248.1 268.5,249.5 272.5,250.6 276.5,251.4 280.5,252.2 284.5,251.7 288.5,251.9 292.5,252.0 296.5,252.2 300.5,252.8 304.5,252.5 308.5,251.4 312.5,250.0 316.5,249.9 320.5,249.1 324.5,248.7 328.5,249.4 332.5,250.2 336.5,251.3 340.5,252.4 344.5,252.6 348.5,252.7 352.5,253.4 356.5,254.3 360.5,255.6 364.5,257.3 368.5,259.4 372.5,261.4 376.5,263.6 380.5,265.8 384.5,268.2 388.5,271.1 392.5,273.8 396.5,276.6 400.5,279.5 404.5,284.7 408.5,288.8 412.5,293.4 416.5,298.1 420.5,302.7 424.5,308.6 428.5,314.4 432.5,320.1 436.5,324.1 440.5,330.0 444.5,335.5 448.5,340.4 452.5,343.7 456.5,347.2 460.5,349.6 464.5,352.2 468.5,354.9 472.5,355.8 476.5,357.2 480.5,358.7 484.5,358.2 488.5,357.9 492.5,357.6 496.5,356.1 500.5,355.1 504.5,354.5 508.5,353.9 512.5,352.2 516.5,350.4 520.5,349.6 524.5,348.6 528.5,347.4 532.5,345.2 536.5,342.0 540.5,338.7 544.5,334.9 548.5,330.3 552.5,325.6 556.5,319.0 560.5,312.1 564.5,305.3 568.5,298.9 572.5,294.3 576.5,289.6 580.5,286.9 584.5,284.6 588.5,282.6 592.5,283.6 596.5,285.0 600.5,286.9 604.5,289.4 608.5,292.0 612.5,294.6 616.5,297.3 620.5,298.4 624.5,298.9 628.5,296.4 632.5,295.4 636.5,294.6 640.5,294.3 644.5,291.9 648.5,287.6 652.5,281.1 656.5,275.6 660.5,270.1 664.5,264.4 668.5,261.1 672.5,256.0 676.5,254.3 680.5,251.6 684.5,249.6 688.5,246.0 692.5,243.4 696.5,240.1 700.5,236.9 704.5,231.8 708.5,226.8 712.5,221.1 716.5,216.4 720.5,210.3 724.5,205.8 728.5,201.3 732.5,196.9 736.5,192.6 740.5,189.3 744.5,184.8 748.5,183.1 752.5,181.0 756.5,179.1 760.5,175.7 764.5,172.8 768.5,172.0 772.5,174.5 776.5,175.9 780.5,177.5 784.5,178.9 788.5,178.8 792.5,181.0 796.5,181.5 800.5,180.4 804.5,178.4 808.5,177.9 812.5,176.6 816.5,176.1 820.5,175.7 824.5,176.8 828.5,177.4 832.5,177.3 836.5,175.6 840.5,174.1 844.5,171.4 848.5,168.1 852.5,164.7 856.5,162.0 860.5,159.5 864.5,158.2 868.5,156.6 872.5,153.8 876.5,151.1 880.5,148.5 884.5,146.8 888.5,143.3 892.5,140.5 896.5,137.8 900.5,135.3 904.5,133.6 908.5,132.5 912.5,131.1 916.5,129.4 920.5,132.0 924.5,134.6 928.5,137.4 932.5,139.1 936.5,142.1 940.5,143.2 944.5,143.6 948.5,144.2 952.5,145.1 956.5,145.7 960.5,146.7 964.5,148.2 968.5,150.5 972.5,152.7 976.5,155.2 980.5,157.5 984.5,158.7 988.5,160.4 992.5,162.9 996.5,165.3 1000.5,168.0 1004.5,171.1 1008.5,176.0 1012.5,179.5 1016.5,183.3 1020.5,186.7 1024.5,191.4 1028.5,195.3 1032.5,199.8 1036.5,204.5 1040.5,207.1 1044.5,209.5 1048.5,212.0 1052.5,214.7 1056.5,217.3 1060.5,220.6 1064.5,223.9 1068.5,227.6 1072.5,231.3 1076.5,235.5 1080.5,238.7 1084.5,241.8 1088.5,243.8 1092.5,246.1 1096.5,248.2 1100.5,250.3 1104.5,253.2 1108.5,256.0 1112.5,260.1 1116.5,264.0 1120.5,267.8 1124.5,271.4 1128.5,276.6 1132.5,281.4 1136.5,285.2 1140.5,289.1 1144.5,291.3 1148.5,294.1 1152.5,296.9 1156.5,298.9 1160.5,301.4 1164.5,304.2 1168.5,306.8 1172.5,310.7 1176.5,313.7 1180.5,316.8 1184.5,319.7 1188.5,322.3 1192.5,325.5 1196.5,328.1 1200.5,332.9 1204.5,337.5 1208.5,344.0 1212.5,350.1 1216.5,356.3 1220.5,363.0 1224.5,369.6 1228.5,376.1 1232.5,381.6 1236.5,387.6 1240.5,393.5 1244.5,398.5 1248.5,402.5 1252.5,407.2 1256.5,412.5 1260.5,417.9 1264.5,424.1 1268.5,429.6" fill="none" stroke="#0000cd" stroke-width="1" shape-rendering="crispEdges"/>
<polyline points="4.5,118.0 8.5,128.0 12.5,138.0 16.5,146.0 20.5,153.5 24.5,162.0 28.5,170.0 32.5,176.0 36.5,178.5 40.5,177.0 44.5,175.0 48.5,173.5 52.5,172.0 56.5,170.9 60.5,164.0 64.5,154.6 68.5,145.6 72.5,138.4 76.5,134.6 80.5,131.8 84.5,131.0 88.5,127.3 92.5,124.1 96.5,122.1 100.5,123.1 104.5,127.4 108.5,132.0 112.5,137.7 116.5,143.0 120.5,146.9 124.5,152.5 128.5,158.5 132.5,163.2 136.5,166.9 140.5,169.8 144.5,175.4 148.5,182.6 152.5,189.6 156.5,193.9 160.5,195.5 164.5,196.6 168.5,197.7 172.5,201.0 176.5,206.1 180.5,209.7 184.5,213.9 188.5,220.1 192.5,226.2 196.5,234.5 200.5,240.6 204.5,247.2 208.5,251.2 212.5,254.7 216.5,257.8 220.5,260.8 224.5,265.3 228.5,268.8 232.5,269.7 236.5,270.6 240.5,269.9 244.5,267.2 248.5,263.1 252.5,257.5 256.5,254.1 260.5,251.6 264.5,250.9 268.5,249.2 272.5,248.9 276.5,248.4 280.5,244.9 284.5,238.8 288.5,236.9 292.5,235.8 296.5,236.2 300.5,236.9 304.5,237.7 308.5,238.8 312.5,238.8 316.5,242.3 320.5,242.8 324.5,245.4 328.5,248.7 332.5,252.1 336.5,255.9 340.5,262.4 344.5,266.7 348.5,270.3 352.5,272.3 356.5,273.8 360.5,276.6 364.5,279.9 368.5,283.3 372.5,282.2 376.5,285.2 380.5,288.5 384.5,291.2 388.5,294.0 392.5,297.1 396.5,300.1 400.5,302.5 404.5,307.3 408.5,312.9 412.5,319.6 416.5,327.4 420.5,334.1 424.5,343.1 428.5,352.2 432.5,359.8 436.5,367.2 440.5,375.2 444.5,383.2 448.5,391.2 452.5,396.0 456.5,401.1 460.5,401.6 464.5,402.5 468.5,402.0 472.5,395.9 476.5,390.6 480.5,383.9 484.5,373.9 488.5,364.4 492.5,354.0 496.5,341.1 500.5,330.4 504.5,321.6 508.5,315.7 512.5,307.9 516.5,301.8 520.5,296.9 524.5,293.8 528.5,294.9 532.5,294.0 536.5,291.6 540.5,292.3 544.5,293.8 548.5,293.6 552.5,294.4 556.5,290.0 560.5,284.4 564.5,279.2 568.5,276.9 572.5,275.8 576.5,272.5 580.5,269.3 584.5,267.9 588.5,267.8 592.5,270.7 596.5,275.5 600.5,281.0 604.5,286.3 608.5,292.4 612.5,301.7 616.5,309.4 620.5,315.7 624.5,321.7 628.5,320.2 632.5,320.3 636.5,318.4 640.5,317.7 644.5,313.7 648.5,303.5 652.5,285.7 656.5,267.6 660.5,251.0 664.5,234.6 668.5,221.8 672.5,205.9 676.5,195.4 680.5,182.9 684.5,178.8 688.5,170.9 692.5,166.1 696.5,156.4 700.5,151.5 704.5,148.4 708.5,151.5 712.5,153.8 716.5,160.3 720.5,165.1 724.5,167.8 728.5,175.2 732.5,178.7 736.5,183.0 740.5,186.5 744.5,190.7 748.5,190.8 752.5,193.6 756.5,194.5 760.5,197.4 764.5,198.0 768.5,198.3 772.5,195.9 776.5,193.9 780.5,190.3 784.5,186.5 788.5,183.2 792.5,181.0 796.5,178.8 800.5,173.4 804.5,168.9 808.5,164.4 812.5,160.9 816.5,157.1 820.5,157.6 824.5,158.9 828.5,157.8 832.5,156.7 836.5,156.3 840.5,154.9 844.5,151.9 848.5,147.6 852.5,142.6 856.5,143.7 860.5,146.0 864.5,148.4 868.5,147.8 872.5,145.9 876.5,141.8 880.5,136.7 884.5,132.4 888.5,125.5 892.5,120.6 896.5,116.0 900.5,112.9 904.5,112.6 908.5,114.2 912.5,114.8 916.5,114.4 920.5,117.2 924.5,121.8 928.5,129.3 932.5,135.1 936.5,143.2 940.5,149.8 944.5,159.4 948.5,165.7 952.5,172.5 956.5,178.4 960.5,183.0 964.5,185.5 968.5,189.1 972.5,192.4 976.5,193.5 980.5,195.0 984.5,193.9 988.5,193.4 992.5,190.6 996.5,189.2 1000.5,189.1 1004.5,190.2 1008.5,191.7 1012.5,193.1 1016.5,194.4 1020.5,195.5 1024.5,200.4 1028.5,205.6 1032.5,210.2 1036.5,215.2 1040.5,221.0 1044.5,227.0 1048.5,234.4 1052.5,240.9 1056.5,248.8 1060.5,255.7 1064.5,262.0 1068.5,268.7 1072.5,275.3 1076.5,283.0 1080.5,284.2 1084.5,285.2 1088.5,283.3 1092.5,281.5 1096.5,281.8 1100.5,282.5 1104.5,282.3 1108.5,282.1 1112.5,282.5 1116.5,282.4 1120.5,283.2 1124.5,284.1 1128.5,288.8 1132.5,291.2 1136.5,294.1 1140.5,296.8 1144.5,302.2 1148.5,308.5 1152.5,314.5 1156.5,319.2 1160.5,324.2 1164.5,330.2 1168.5,334.3 1172.5,341.0 1176.5,347.1 1180.5,353.1 1184.5,354.2 1188.5,356.5 1192.5,361.6 1196.5,366.7 1200.5,373.2 1204.5,378.1 1208.5,384.2 1212.5,391.4 1216.5,399.2 1220.5,408.6 1224.5,417.0 1228.5,422.2 1232.5,427.9 1236.5,434.1 1240.5,441.5 1244.5,447.4 1248.5,453.9 1252.5,460.6 1256.5,464.8 1260.5,469.1 1264.5,473.9 1268.5,478.7" fill="none" stroke="#ff0000" stroke-width="1" shape-rendering="crispEdges"/>
<polyline points="4.5,163.0 8.5,178.0 12.5,190.0 16.5,202.0 20.5,212.3 24.5,208.7 28.5,193.0 32.5,182.5 36.5,170.1 40.5,162.9 44.5,154.7 48.5,146.6 52.5,136.3 56.5,131.7 60.5,124.7 64.5,118.1 68.5,114.1 72.5,109.7 76.5,110.9 80.5,118.6 84.5,126.9 88.5,131.3 92.5,130.1 96.5,127.7 100.5,130.3 104.5,136.5 108.5,149.6 112.5,169.8 116.5,183.3 120.5,184.6 124.5,184.5 128.5,183.8 132.5,182.5 136.5,185.6 140.5,191.2 144.5,195.5 148.5,197.6 152.5,201.4 156.5,205.8 160.5,208.5 164.5,208.8 168.5,212.1 172.5,215.3 176.5,218.9 180.5,224.1 184.5,232.4 188.5,245.2 192.5,256.2 196.5,270.7 200.5,282.0 204.5,290.8 208.5,288.6 212.5,285.5 216.5,273.5 220.5,265.5 224.5,262.7 228.5,264.5 232.5,261.0 236.5,260.1 240.5,257.7 244.5,250.6 248.5,240.3 252.5,236.5 256.5,235.8 260.5,239.8 264.5,243.0 268.5,246.4 272.5,249.3 276.5,249.5 280.5,243.9 284.5,230.5 288.5,226.6 292.5,223.5 296.5,223.5 300.5,228.0 304.5,237.2 308.5,241.8 312.5,244.2 316.5,257.0 320.5,259.7 324.5,267.9 328.5,277.0 332.5,286.9 336.5,281.8 340.5,285.4 344.5,286.3 348.5,284.1 352.5,279.9 356.5,278.2 360.5,276.8 364.5,278.8 368.5,280.6 372.5,284.8 376.5,291.6 380.5,301.2 384.5,308.8 388.5,316.8 392.5,323.6 396.5,327.3 400.5,325.7 404.5,329.1 408.5,332.7 412.5,341.2 416.5,353.0 420.5,367.3 424.5,380.8 428.5,395.0 432.5,403.9 436.5,412.9 440.5,423.8 444.5,429.1 448.5,432.9 452.5,428.9 456.5,420.5 460.5,402.9 464.5,386.8 468.5,371.4 472.5,352.6 476.5,338.0 480.5,331.2 484.5,314.9 488.5,298.6 492.5,295.6 496.5,285.2 500.5,279.5 504.5,286.4 508.5,292.5 512.5,291.3 516.5,292.8 520.5,292.9 524.5,293.6 528.5,294.3 532.5,299.2 536.5,302.7 540.5,302.0 544.5,298.5 548.5,291.9 552.5,286.2 556.5,275.0 560.5,264.2 564.5,251.6 568.5,244.5 572.5,240.9 576.5,243.8 580.5,251.4 584.5,262.8 588.5,273.9 592.5,288.4 596.5,310.3 600.5,331.2 604.5,343.4 608.5,354.9 612.5,361.7 616.5,359.3 620.5,348.9 624.5,343.5 628.5,318.8 632.5,296.0 636.5,276.6 640.5,268.3 644.5,251.5 648.5,241.8 652.5,213.3 656.5,188.8 660.5,156.7 664.5,133.5 668.5,132.8 672.5,135.8 676.5,146.8 680.5,152.9 684.5,162.6 688.5,153.6 692.5,165.3 696.5,159.0 700.5,163.5 704.5,156.6 708.5,159.0 712.5,154.3 716.5,167.8 720.5,171.7 724.5,187.1 728.5,202.1 732.5,216.5 736.5,216.5 740.5,222.5 744.5,217.8 748.5,209.0 752.5,200.9 756.5,195.5 760.5,187.0 764.5,179.5 768.5,175.3 772.5,174.2 776.5,170.1 780.5,167.3 784.5,169.7 788.5,174.1 792.5,174.6 796.5,180.1 800.5,170.3 804.5,159.7 808.5,148.2 812.5,139.3 816.5,126.3 820.5,135.3 824.5,147.3 828.5,155.7 832.5,158.4 836.5,165.2 840.5,162.2 844.5,154.7 848.5,146.2 852.5,140.6 856.5,134.9 860.5,134.7 864.5,138.3 868.5,139.8 872.5,135.6 876.5,130.1 880.5,121.3 884.5,111.0 888.5,95.9 892.5,94.3 896.5,90.0 900.5,88.2 904.5,90.8 908.5,109.2 912.5,118.6 916.5,130.2 920.5,150.3 924.5,165.5 928.5,177.7 932.5,187.1 936.5,201.9 940.5,202.2 944.5,201.0 948.5,196.2 952.5,194.5 956.5,186.8 960.5,183.7 964.5,182.5 968.5,184.1 972.5,186.0 976.5,192.5 980.5,199.1 984.5,201.1 988.5,199.3 992.5,197.0 996.5,190.3 1000.5,184.6 1004.5,185.8 1008.5,189.6 1012.5,193.6 1016.5,198.0 1020.5,200.5 1024.5,212.6 1028.5,224.9 1032.5,240.5 1036.5,257.6 1040.5,272.3 1044.5,274.0 1048.5,277.8 1052.5,276.3 1056.5,278.5 1060.5,283.1 1064.5,287.5 1068.5,289.6 1072.5,294.3 1076.5,296.3 1080.5,292.3 1084.5,290.0 1088.5,281.4 1092.5,274.9 1096.5,268.8 1100.5,269.3 1104.5,269.6 1108.5,272.9 1112.5,281.3 1116.5,285.0 1120.5,289.5 1124.5,294.6 1128.5,313.1 1132.5,320.8 1136.5,325.0 1140.5,328.0 1144.5,332.2 1148.5,330.1 1152.5,333.8 1156.5,339.5 1160.5,346.4 1164.5,351.1 1168.5,353.5 1172.5,359.3 1176.5,367.6 1180.5,375.4 1184.5,380.5 1188.5,382.9 1192.5,382.7 1196.5,383.0 1200.5,388.5 1204.5,397.0 1208.5,411.3 1212.5,423.0 1216.5,437.5 1220.5,450.2 1224.5,462.4 1228.5,465.8 1232.5,469.8 1236.5,472.9 1240.5,472.6 1244.5,468.0 1248.5,471.4 1252.5,474.4 1256.5,474.5 1260.5,474.3 1264.5,485.3 1268.5,492.4" fill="none" stroke="#ffa500" stroke-width="1" shape-rendering="crispEdges"/>
</g>
<polyline points="4.5,581.6 8.5,586.3 12.5,584.1 16.5,579.8 20.5,575.7 24.5,576.7 28.5,573.6 32.5,575.7 36.5,570.7 40.5,570.5 44.5,570.9 48.5,567.9 52.5,568.3 56.5,567.4 60.5,565.4 64.5,566.3 68.5,565.2 72.5,565.2 76.5,571.0 80.5,575.6 84.5,577.1 88.5,571.4 92.5,566.4 96.5,570.2 100.5,578.9 104.5,582.9 108.5,584.1 112.5,585.2 116.5,581.2 120.5,577.8 124.5,580.9 128.5,581.8 132.5,582.6 136.5,583.4 140.5,582.4 144.5,584.6 148.5,582.9 152.5,585.5 156.5,587.0 160.5,583.0 164.5,582.9 168.5,584.9 172.5,587.6 176.5,589.6 180.5,587.8 184.5,590.9 188.5,596.1 192.5,596.6 196.5,600.1 200.5,592.7 204.5,593.1 208.5,585.4 212.5,585.1 216.5,579.9 220.5,579.7 224.5,585.9 228.5,585.8 232.5,577.8 236.5,576.6 240.5,574.5 244.5,575.8 248.5,571.5 252.5,573.0 256.5,576.2 260.5,580.3 264.5,580.5 268.5,575.7 272.5,576.4 276.5,575.7 280.5,571.5 284.5,562.6 288.5,572.1 292.5,573.8 296.5,577.1 300.5,579.2 304.5,575.4 308.5,577.6 312.5,576.4 316.5,589.2 320.5,579.4 324.5,581.6 328.5,583.8 332.5,583.7 336.5,581.2 340.5,581.6 344.5,581.5 348.5,580.9 352.5,577.9 356.5,578.6 360.5,579.5 364.5,583.6 368.5,582.6 372.5,583.0 376.5,586.9 380.5,590.6 384.5,591.9 388.5,591.5 392.5,589.5 396.5,589.5 400.5,585.3 404.5,592.7 408.5,592.7 412.5,596.4 416.5,599.0 420.5,599.5 424.5,603.0 428.5,603.4 432.5,600.3 436.5,602.5 440.5,603.9 444.5,603.7 448.5,601.6 452.5,583.4 456.5,581.8 460.5,572.9 464.5,574.7 468.5,574.6 472.5,562.1 476.5,566.4 480.5,567.9 484.5,561.5 488.5,561.4 492.5,562.6 496.5,559.4 500.5,567.3 504.5,572.4 508.5,571.5 512.5,566.0 516.5,564.8 520.5,570.1 524.5,575.4 528.5,574.5 532.5,572.3 536.5,569.6 540.5,569.9 544.5,572.7 548.5,568.8 552.5,567.5 556.5,560.7 560.5,561.7 564.5,562.4 568.5,564.6 572.5,567.6 576.5,565.8 580.5,573.0 584.5,577.9 588.5,579.2 592.5,584.5 596.5,588.8 600.5,591.8 604.5,586.2 608.5,586.5 612.5,587.2 616.5,582.3 620.5,578.0 624.5,578.6 628.5,562.7 632.5,565.5 636.5,565.3 640.5,572.8 644.5,567.2 648.5,560.8 652.5,554.5 656.5,557.7 660.5,557.7 664.5,558.6 668.5,567.8 672.5,562.0 676.5,570.0 680.5,567.6 684.5,570.5 688.5,566.8 692.5,571.9 696.5,569.0 700.5,572.4 704.5,569.1 708.5,570.0 712.5,570.8 716.5,577.8 720.5,575.6 724.5,578.2 728.5,578.8 732.5,579.1 736.5,577.3 740.5,578.8 744.5,574.5 748.5,572.4 752.5,573.4 756.5,573.6 760.5,572.9 764.5,569.1 768.5,569.3 772.5,573.5 776.5,571.2 780.5,571.6 784.5,571.8 788.5,574.3 792.5,574.8 796.5,577.3 800.5,564.1 804.5,563.7 808.5,565.2 812.5,568.9 816.5,567.3 820.5,574.9 824.5,577.2 828.5,574.9 832.5,572.4 836.5,574.7 840.5,572.1 844.5,570.1 848.5,567.1 852.5,567.5 856.5,570.3 860.5,573.8 864.5,575.8 868.5,569.9 872.5,565.1 876.5,566.1 880.5,565.7 884.5,566.0 888.5,557.8 892.5,568.1 896.5,566.6 900.5,569.0 904.5,574.0 908.5,579.2 912.5,578.3 916.5,578.6 920.5,587.2 924.5,586.8 928.5,588.7 932.5,584.1 936.5,588.3 940.5,583.7 944.5,581.7 948.5,580.6 952.5,579.9 956.5,579.5 960.5,580.2 964.5,580.3 968.5,582.4 972.5,581.9 976.5,586.7 980.5,587.4 984.5,580.1 988.5,577.2 992.5,576.1 996.5,575.9 1000.5,578.4 1004.5,581.8 1008.5,582.6 1012.5,581.4 1016.5,581.9 1020.5,581.5 1024.5,595.1 1028.5,595.7 1032.5,597.8 1036.5,599.0 1040.5,593.6 1044.5,591.6 1048.5,594.2 1052.5,589.1 1056.5,593.9 1060.5,593.6 1064.5,591.2 1068.5,591.8 1072.5,591.8 1076.5,594.5 1080.5,582.6 1084.5,583.2 1088.5,574.5 1092.5,577.3 1096.5,581.3 1100.5,581.7 1104.5,582.1 1108.5,577.7 1112.5,586.2 1116.5,583.8 1120.5,585.1 1124.5,586.1 1128.5,595.1 1132.5,589.5 1136.5,582.7 1140.5,582.7 1144.5,584.7 1148.5,588.5 1152.5,590.3 1156.5,585.9 1160.5,586.9 1164.5,586.8 1168.5,588.8 1172.5,593.3 1176.5,592.5 1180.5,593.0 1184.5,588.0 1188.5,587.0 1192.5,590.0 1196.5,590.0 1200.5,595.1 1204.5,595.3 1208.5,599.0 1212.5,599.2 1216.5,601.0 1220.5,603.3 1224.5,602.6 1228.5,595.1 1232.5,595.8 1236.5,597.3 1240.5,597.8 1244.5,588.5 1248.5,592.5 1252.5,593.0 1256.5,591.0 1260.5,591.4 1264.5,597.0 1268.5,597.3" fill="none" stroke="#1e90ff" stroke-width="1" shape-rendering="crispEdges"/>
<g shape-rendering="crispEdges"><rect x="4" y="656" width="1" height="17" fill="#c0c0c0"/><rect x="8" y="665" width="1" height="8" fill="#c0c0c0"/><rect x="12" y="670" width="1" height="3" fill="#c0c0c0"/><rect x="16" y="672" width="1" height="2" fill="#c0c0c0"/><rect x="20" y="672" width="1" height="2" fill="#c0c0c0"/><rect x="24" y="672" width="1" height="3" fill="#c0c0c0"/><rect x="28" y="672" width="1" height="2" fill="#c0c0c0"/><rect x="32" y="672" width="1" height="2" fill="#c0c0c0"/><rect x="36" y="670" width="1" height="3" fill="#c0c0c0"/><rect x="40" y="668" width="1" height="5" fill="#c0c0c0"/><rect x="44" y="667" width="1" height="6" fill="#c0c0c0"/><rect x="48" y="664" width="1" height="9" fill="#c0c0c0"/><rect x="52" y="662" width="1" height="11" fill="#c0c0c0"/><rect x="56" y="661" width="1" height="12" fill="#c0c0c0"/><rect x="60" y="658" width="1" height="15" fill="#c0c0c0"/><rect x="64" y="657" width="1" height="16" fill="#c0c0c0"/><rect x="68" y="656" width="1" height="17" fill="#c0c0c0"/><rect x="72" y="655" width="1" height="18" fill="#c0c0c0"/><rect x="76" y="656" width="1" height="17" fill="#c0c0c0"/><rect x="80" y="659" width="1" height="14" fill="#c0c0c0"/><rect x="84" y="661" width="1" height="12" fill="#c0c0c0"/><rect x="88" y="662" width="1" height="11" fill="#c0c0c0"/><rect x="92" y="660" width="1" height="13" fill="#c0c0c0"/><rect x="96" y="660" width="1" height="13" fill="#c0c0c0"/><rect x="100" y="663" width="1" height="10" fill="#c0c0c0"/><rect x="104" y="668" width="1" height="5" fill="#c0c0c0"/><rect x="108" y="672" width="1" height="1" fill="#c0c0c0"/><rect x="112" y="672" width="1" height="5" fill="#c0c0c0"/><rect x="116" y="672" width="1" height="7" fill="#c0c0c0"/><rect x="120" y="672" width="1" height="7" fill="#c0c0c0"/><rect x="124" y="672" width="1" height="8" fill="#c0c0c0"/><rect x="128" y="672" width="1" height="9" fill="#c0c0c0"/><rect x="132" y="672" width="1" height="11" fill="#c0c0c0"/><rect x="136" y="672" width="1" height="12" fill="#c0c0c0"/><rect x="140" y="672" width="1" height="13" fill="#c0c0c0"/><rect x="144" y="672" width="1" height="14" fill="#c0c0c0"/><rect x="148" y="672" width="1" height="14" fill="#c0c0c0"/><rect x="152" y="672" width="1" height="15" fill="#c0c0c0"/><rect x="156" y="672" width="1" height="16" fill="#c0c0c0"/><rect x="160" y="672" width="1" height="16" fill="#c0c0c0"/><rect x="164" y="672" width="1" height="16" fill="#c0c0c0"/><rect x="168" y="672" width="1" height="16" fill="#c0c0c0"/><rect x="172" y="672" width="1" height="17" fill="#c0c0c0"/><rect x="176" y="672" width="1" height="18" fill="#c0c0c0"/><rect x="180" y="672" width="1" height="19" fill="#c0c0c0"/><rect x="184" y="672" width="1" height="20" fill="#c0c0c0"/><rect x="188" y="672" width="1" height="23" fill="#c0c0c0"/><rect x="192" y="672" width="1" height="26" fill="#c0c0c0"/><rect x="196" y="672" width="1" height="29" fill="#c0c0c0"/><rect x="200" y="672" width="1" height="30" fill="#c0c0c0"/><rect x="204" y="672" width="1" height="31" fill="#c0c0c0"/><rect x="208" y="672" width="1" height="30" fill="#c0c0c0"/><rect x="212" y="672" width="1" height="28" fill="#c0c0c0"/><rect x="216" y="672" width="1" height="25" fill="#c0c0c0"/><rect x="220" y="672" width="1" height="22" fill="#c0c0c0"/><rect x="224" y="672" width="1" height="22" fill="#c0c0c0"/><rect x="228" y="672" width="1" height="22" fill="#c0c0c0"/><rect x="232" y="672" width="1" height="19" fill="#c0c0c0"/><rect x="236" y="672" width="1" height="17" fill="#c0c0c0"/><rect x="240" y="672" width="1" height="14" fill="#c0c0c0"/><rect x="244" y="672" width="1" height="12" fill="#c0c0c0"/><rect x="248" y="672" width="1" height="9" fill="#c0c0c0"/><rect x="252" y="672" width="1" height="7" fill="#c0c0c0"/><rect x="256" y="672" width="1" height="6" fill="#c0c0c0"/><rect x="260" y="672" width="1" height="7" fill="#c0c0c0"/><rect x="264" y="672" width="1" height="7" fill="#c0c0c0"/><rect x="268" y="672" width="1" height="6" fill="#c0c0c0"/><rect x="272" y="672" width="1" height="6" fill="#c0c0c0"/><rect x="276" y="672" width="1" height="5" fill="#c0c0c0"/><rect x="280" y="672" width="1" height="3" fill="#c0c0c0"/><rect x="284" y="670" width="1" height="3" fill="#c0c0c0"/><rect x="288" y="669" width="1" height="4" fill="#c0c0c0"/><rect x="292" y="669" width="1" height="4" fill="#c0c0c0"/><rect x="296" y="670" width="1" height="3" fill="#c0c0c0"/><rect x="300" y="671" width="1" height="2" fill="#c0c0c0"/><rect x="304" y="671" width="1" height="2" fill="#c0c0c0"/><rect x="308" y="672" width="1" height="1" fill="#c0c0c0"/><rect x="312" y="672" width="1" height="1" fill="#c0c0c0"/><rect x="316" y="672" width="1" height="6" fill="#c0c0c0"/><rect x="320" y="672" width="1" height="7" fill="#c0c0c0"/><rect x="324" y="672" width="1" height="9" fill="#c0c0c0"/><rect x="328" y="672" width="1" height="11" fill="#c0c0c0"/><rect x="332" y="672" width="1" height="12" fill="#c0c0c0"/><rect x="336" y="672" width="1" height="13" fill="#c0c0c0"/><rect x="340" y="672" width="1" height="13" fill="#c0c0c0"/><rect x="344" y="672" width="1" height="13" fill="#c0c0c0"/><rect x="348" y="672" width="1" height="13" fill="#c0c0c0"/><rect x="352" y="672" width="1" height="11" fill="#c0c0c0"/><rect x="356" y="672" width="1" height="11" fill="#c0c0c0"/><rect x="360" y="672" width="1" height="10" fill="#c0c0c0"/><rect x="364" y="672" width="1" height="11" fill="#c0c0c0"/><rect x="368" y="672" width="1" height="11" fill="#c0c0c0"/><rect x="372" y="672" width="1" height="11" fill="#c0c0c0"/><rect x="376" y="672" width="1" height="13" fill="#c0c0c0"/><rect x="380" y="672" width="1" height="15" fill="#c0c0c0"/><rect x="384" y="672" width="1" height="17" fill="#c0c0c0"/><rect x="388" y="672" width="1" height="18" fill="#c0c0c0"/><rect x="392" y="672" width="1" height="18" fill="#c0c0c0"/><rect x="396" y="672" width="1" height="19" fill="#c0c0c0"/><rect x="400" y="672" width="1" height="18" fill="#c0c0c0"/><rect x="404" y="672" width="1" height="20" fill="#c0c0c0"/><rect x="408" y="672" width="1" height="21" fill="#c0c0c0"/><rect x="412" y="672" width="1" height="23" fill="#c0c0c0"/><rect x="416" y="672" width="1" height="25" fill="#c0c0c0"/><rect x="420" y="672" width="1" height="27" fill="#c0c0c0"/><rect x="424" y="672" width="1" height="31" fill="#c0c0c0"/><rect x="428" y="672" width="1" height="33" fill="#c0c0c0"/><rect x="432" y="672" width="1" height="34" fill="#c0c0c0"/><rect x="436" y="672" width="1" height="36" fill="#c0c0c0"/><rect x="440" y="672" width="1" height="38" fill="#c0c0c0"/><rect x="444" y="672" width="1" height="39" fill="#c0c0c0"/><rect x="448" y="672" width="1" height="39" fill="#c0c0c0"/><rect x="452" y="672" width="1" height="36" fill="#c0c0c0"/><rect x="456" y="672" width="1" height="32" fill="#c0c0c0"/><rect x="460" y="672" width="1" height="26" fill="#c0c0c0"/><rect x="464" y="672" width="1" height="22" fill="#c0c0c0"/><rect x="468" y="672" width="1" height="18" fill="#c0c0c0"/><rect x="472" y="672" width="1" height="11" fill="#c0c0c0"/><rect x="476" y="672" width="1" height="6" fill="#c0c0c0"/><rect x="480" y="672" width="1" height="2" fill="#c0c0c0"/><rect x="484" y="667" width="1" height="6" fill="#c0c0c0"/><rect x="488" y="663" width="1" height="10" fill="#c0c0c0"/><rect x="492" y="660" width="1" height="13" fill="#c0c0c0"/><rect x="496" y="656" width="1" height="17" fill="#c0c0c0"/><rect x="500" y="655" width="1" height="18" fill="#c0c0c0"/><rect x="504" y="657" width="1" height="16" fill="#c0c0c0"/><rect x="508" y="657" width="1" height="16" fill="#c0c0c0"/><rect x="512" y="656" width="1" height="17" fill="#c0c0c0"/><rect x="516" y="654" width="1" height="19" fill="#c0c0c0"/><rect x="520" y="655" width="1" height="18" fill="#c0c0c0"/><rect x="524" y="658" width="1" height="15" fill="#c0c0c0"/><rect x="528" y="659" width="1" height="14" fill="#c0c0c0"/><rect x="532" y="660" width="1" height="13" fill="#c0c0c0"/><rect x="536" y="660" width="1" height="13" fill="#c0c0c0"/><rect x="540" y="660" width="1" height="13" fill="#c0c0c0"/><rect x="544" y="661" width="1" height="12" fill="#c0c0c0"/><rect x="548" y="660" width="1" height="13" fill="#c0c0c0"/><rect x="552" y="659" width="1" height="14" fill="#c0c0c0"/><rect x="556" y="656" width="1" height="17" fill="#c0c0c0"/><rect x="560" y="653" width="1" height="20" fill="#c0c0c0"/><rect x="564" y="652" width="1" height="21" fill="#c0c0c0"/><rect x="568" y="651" width="1" height="22" fill="#c0c0c0"/><rect x="572" y="652" width="1" height="21" fill="#c0c0c0"/><rect x="576" y="652" width="1" height="21" fill="#c0c0c0"/><rect x="580" y="654" width="1" height="19" fill="#c0c0c0"/><rect x="584" y="658" width="1" height="15" fill="#c0c0c0"/><rect x="588" y="661" width="1" height="12" fill="#c0c0c0"/><rect x="592" y="666" width="1" height="7" fill="#c0c0c0"/><rect x="596" y="672" width="1" height="1" fill="#c0c0c0"/><rect x="600" y="672" width="1" height="8" fill="#c0c0c0"/><rect x="604" y="672" width="1" height="11" fill="#c0c0c0"/><rect x="608" y="672" width="1" height="13" fill="#c0c0c0"/><rect x="612" y="672" width="1" height="16" fill="#c0c0c0"/><rect x="616" y="672" width="1" height="16" fill="#c0c0c0"/><rect x="620" y="672" width="1" height="14" fill="#c0c0c0"/><rect x="624" y="672" width="1" height="13" fill="#c0c0c0"/><rect x="628" y="672" width="1" height="5" fill="#c0c0c0"/><rect x="632" y="671" width="1" height="2" fill="#c0c0c0"/><rect x="636" y="667" width="1" height="6" fill="#c0c0c0"/><rect x="640" y="666" width="1" height="7" fill="#c0c0c0"/><rect x="644" y="663" width="1" height="10" fill="#c0c0c0"/><rect x="648" y="656" width="1" height="17" fill="#c0c0c0"/><rect x="652" y="645" width="1" height="28" fill="#c0c0c0"/><rect x="656" y="638" width="1" height="35" fill="#c0c0c0"/><rect x="660" y="633" width="1" height="40" fill="#c0c0c0"/><rect x="664" y="629" width="1" height="44" fill="#c0c0c0"/><rect x="668" y="631" width="1" height="42" fill="#c0c0c0"/><rect x="672" y="629" width="1" height="44" fill="#c0c0c0"/><rect x="676" y="632" width="1" height="41" fill="#c0c0c0"/><rect x="680" y="632" width="1" height="41" fill="#c0c0c0"/><rect x="684" y="635" width="1" height="38" fill="#c0c0c0"/><rect x="688" y="635" width="1" height="38" fill="#c0c0c0"/><rect x="692" y="638" width="1" height="35" fill="#c0c0c0"/><rect x="696" y="639" width="1" height="34" fill="#c0c0c0"/><rect x="700" y="642" width="1" height="31" fill="#c0c0c0"/><rect x="704" y="642" width="1" height="31" fill="#c0c0c0"/><rect x="708" y="643" width="1" height="30" fill="#c0c0c0"/><rect x="712" y="644" width="1" height="29" fill="#c0c0c0"/><rect x="716" y="650" width="1" height="23" fill="#c0c0c0"/><rect x="720" y="654" width="1" height="19" fill="#c0c0c0"/><rect x="724" y="659" width="1" height="14" fill="#c0c0c0"/><rect x="728" y="663" width="1" height="10" fill="#c0c0c0"/><rect x="732" y="667" width="1" height="6" fill="#c0c0c0"/><rect x="736" y="669" width="1" height="4" fill="#c0c0c0"/><rect x="740" y="671" width="1" height="2" fill="#c0c0c0"/><rect x="744" y="671" width="1" height="2" fill="#c0c0c0"/><rect x="748" y="669" width="1" height="4" fill="#c0c0c0"/><rect x="752" y="669" width="1" height="4" fill="#c0c0c0"/><rect x="756" y="668" width="1" height="5" fill="#c0c0c0"/><rect x="760" y="668" width="1" height="5" fill="#c0c0c0"/><rect x="764" y="665" width="1" height="8" fill="#c0c0c0"/><rect x="768" y="664" width="1" height="9" fill="#c0c0c0"/><rect x="772" y="664" width="1" height="9" fill="#c0c0c0"/><rect x="776" y="664" width="1" height="9" fill="#c0c0c0"/><rect x="780" y="663" width="1" height="10" fill="#c0c0c0"/><rect x="784" y="663" width="1" height="10" fill="#c0c0c0"/><rect x="788" y="664" width="1" height="9" fill="#c0c0c0"/><rect x="792" y="665" width="1" height="8" fill="#c0c0c0"/><rect x="796" y="667" width="1" height="6" fill="#c0c0c0"/><rect x="800" y="663" width="1" height="10" fill="#c0c0c0"/><rect x="804" y="659" width="1" height="14" fill="#c0c0c0"/><rect x="808" y="657" width="1" height="16" fill="#c0c0c0"/><rect x="812" y="657" width="1" height="16" fill="#c0c0c0"/><rect x="816" y="656" width="1" height="17" fill="#c0c0c0"/><rect x="820" y="659" width="1" height="14" fill="#c0c0c0"/><rect x="824" y="661" width="1" height="12" fill="#c0c0c0"/><rect x="828" y="663" width="1" height="10" fill="#c0c0c0"/><rect x="832" y="663" width="1" height="10" fill="#c0c0c0"/><rect x="836" y="664" width="1" height="9" fill="#c0c0c0"/><rect x="840" y="664" width="1" height="9" fill="#c0c0c0"/><rect x="844" y="663" width="1" height="10" fill="#c0c0c0"/><rect x="848" y="662" width="1" height="11" fill="#c0c0c0"/><rect x="852" y="661" width="1" height="12" fill="#c0c0c0"/><rect x="856" y="661" width="1" height="12" fill="#c0c0c0"/><rect x="860" y="662" width="1" height="11" fill="#c0c0c0"/><rect x="864" y="664" width="1" height="9" fill="#c0c0c0"/><rect x="868" y="663" width="1" height="10" fill="#c0c0c0"/><rect x="872" y="661" width="1" height="12" fill="#c0c0c0"/><rect x="876" y="659" width="1" height="14" fill="#c0c0c0"/><rect x="880" y="658" width="1" height="15" fill="#c0c0c0"/><rect x="884" y="657" width="1" height="16" fill="#c0c0c0"/><rect x="888" y="653" width="1" height="20" fill="#c0c0c0"/><rect x="892" y="653" width="1" height="20" fill="#c0c0c0"/><rect x="896" y="653" width="1" height="20" fill="#c0c0c0"/><rect x="900" y="653" width="1" height="20" fill="#c0c0c0"/><rect x="904" y="656" width="1" height="17" fill="#c0c0c0"/><rect x="908" y="660" width="1" height="13" fill="#c0c0c0"/><rect x="912" y="663" width="1" height="10" fill="#c0c0c0"/><rect x="916" y="665" width="1" height="8" fill="#c0c0c0"/><rect x="920" y="671" width="1" height="2" fill="#c0c0c0"/><rect x="924" y="672" width="1" height="5" fill="#c0c0c0"/><rect x="928" y="672" width="1" height="10" fill="#c0c0c0"/><rect x="932" y="672" width="1" height="12" fill="#c0c0c0"/><rect x="936" y="672" width="1" height="15" fill="#c0c0c0"/><rect x="940" y="672" width="1" height="17" fill="#c0c0c0"/><rect x="944" y="672" width="1" height="17" fill="#c0c0c0"/><rect x="948" y="672" width="1" height="16" fill="#c0c0c0"/><rect x="952" y="672" width="1" height="15" fill="#c0c0c0"/><rect x="956" y="672" width="1" height="15" fill="#c0c0c0"/><rect x="960" y="672" width="1" height="14" fill="#c0c0c0"/><rect x="964" y="672" width="1" height="13" fill="#c0c0c0"/><rect x="968" y="672" width="1" height="13" fill="#c0c0c0"/><rect x="972" y="672" width="1" height="13" fill="#c0c0c0"/><rect x="976" y="672" width="1" height="14" fill="#c0c0c0"/><rect x="980" y="672" width="1" height="16" fill="#c0c0c0"/><rect x="984" y="672" width="1" height="15" fill="#c0c0c0"/><rect x="988" y="672" width="1" height="13" fill="#c0c0c0"/><rect x="992" y="672" width="1" height="11" fill="#c0c0c0"/><rect x="996" y="672" width="1" height="10" fill="#c0c0c0"/><rect x="1000" y="672" width="1" height="9" fill="#c0c0c0"/><rect x="1004" y="672" width="1" height="9" fill="#c0c0c0"/><rect x="1008" y="672" width="1" height="10" fill="#c0c0c0"/><rect x="1012" y="672" width="1" height="10" fill="#c0c0c0"/><rect x="1016" y="672" width="1" height="10" fill="#c0c0c0"/><rect x="1020" y="672" width="1" height="10" fill="#c0c0c0"/><rect x="1024" y="672" width="1" height="14" fill="#c0c0c0"/><rect x="1028" y="672" width="1" height="17" fill="#c0c0c0"/><rect x="1032" y="672" width="1" height="21" fill="#c0c0c0"/><rect x="1036" y="672" width="1" height="24" fill="#c0c0c0"/><rect x="1040" y="672" width="1" height="25" fill="#c0c0c0"/><rect x="1044" y="672" width="1" height="26" fill="#c0c0c0"/><rect x="1048" y="672" width="1" height="27" fill="#c0c0c0"/><rect x="1052" y="672" width="1" height="26" fill="#c0c0c0"/><rect x="1056" y="672" width="1" height="28" fill="#c0c0c0"/><rect x="1060" y="672" width="1" height="29" fill="#c0c0c0"/><rect x="1064" y="672" width="1" height="28" fill="#c0c0c0"/><rect x="1068" y="672" width="1" height="28" fill="#c0c0c0"/><rect x="1072" y="672" width="1" height="28" fill="#c0c0c0"/><rect x="1076" y="672" width="1" height="28" fill="#c0c0c0"/><rect x="1080" y="672" width="1" height="26" fill="#c0c0c0"/><rect x="1084" y="672" width="1" height="24" fill="#c0c0c0"/><rect x="1088" y="672" width="1" height="20" fill="#c0c0c0"/><rect x="1092" y="672" width="1" height="17" fill="#c0c0c0"/><rect x="1096" y="672" width="1" height="16" fill="#c0c0c0"/><rect x="1100" y="672" width="1" height="16" fill="#c0c0c0"/><rect x="1104" y="672" width="1" height="15" fill="#c0c0c0"/><rect x="1108" y="672" width="1" height="13" fill="#c0c0c0"/><rect x="1112" y="672" width="1" height="15" fill="#c0c0c0"/><rect x="1116" y="672" width="1" height="15" fill="#c0c0c0"/><rect x="1120" y="672" width="1" height="15" fill="#c0c0c0"/><rect x="1124" y="672" width="1" height="16" fill="#c0c0c0"/><rect x="1128" y="672" width="1" height="20" fill="#c0c0c0"/><rect x="1132" y="672" width="1" height="22" fill="#c0c0c0"/><rect x="1136" y="672" width="1" height="21" fill="#c0c0c0"/><rect x="1140" y="672" width="1" height="20" fill="#c0c0c0"/><rect x="1144" y="672" width="1" height="20" fill="#c0c0c0"/><rect x="1148" y="672" width="1" height="22" fill="#c0c0c0"/><rect x="1152" y="672" width="1" height="23" fill="#c0c0c0"/><rect x="1156" y="672" width="1" height="23" fill="#c0c0c0"/><rect x="1160" y="672" width="1" height="24" fill="#c0c0c0"/><rect x="1164" y="672" width="1" height="23" fill="#c0c0c0"/><rect x="1168" y="672" width="1" height="24" fill="#c0c0c0"/><rect x="1172" y="672" width="1" height="26" fill="#c0c0c0"/><rect x="1176" y="672" width="1" height="27" fill="#c0c0c0"/><rect x="1180" y="672" width="1" height="28" fill="#c0c0c0"/><rect x="1184" y="672" width="1" height="27" fill="#c0c0c0"/><rect x="1188" y="672" width="1" height="26" fill="#c0c0c0"/><rect x="1192" y="672" width="1" height="26" fill="#c0c0c0"/><rect x="1196" y="672" width="1" height="26" fill="#c0c0c0"/><rect x="1200" y="672" width="1" height="28" fill="#c0c0c0"/><rect x="1204" y="672" width="1" height="29" fill="#c0c0c0"/><rect x="1208" y="672" width="1" height="31" fill="#c0c0c0"/><rect x="1212" y="672" width="1" height="33" fill="#c0c0c0"/><rect x="1216" y="672" width="1" height="35" fill="#c0c0c0"/><rect x="1220" y="672" width="1" height="38" fill="#c0c0c0"/><rect x="1224" y="672" width="1" height="40" fill="#c0c0c0"/><rect x="1228" y="672" width="1" height="39" fill="#c0c0c0"/><rect x="1232" y="672" width="1" height="39" fill="#c0c0c0"/><rect x="1236" y="672" width="1" height="39" fill="#c0c0c0"/><rect x="1240" y="672" width="1" height="38" fill="#c0c0c0"/><rect x="1244" y="672" width="1" height="36" fill="#c0c0c0"/><rect x="1248" y="672" width="1" height="36" fill="#c0c0c0"/><rect x="1252" y="672" width="1" height="35" fill="#c0c0c0"/><rect x="1256" y="672" width="1" height="34" fill="#c0c0c0"/><rect x="1260" y="672" width="1" height="32" fill="#c0c0c0"/><rect x="1264" y="672" width="1" height="34" fill="#c0c0c0"/><rect x="1268" y="672" width="1" height="34" fill="#c0c0c0"/></g>
<polyline points="4.5,635.5 8.5,640.5 12.5,645.9 16.5,651.2 20.5,656.1 24.5,660.5 28.5,664.5 32.5,667.8 36.5,670.1 40.5,671.4 44.5,671.6 48.5,670.9 52.5,669.7 56.5,668.3 60.5,666.7 64.5,665.0 68.5,663.1 72.5,661.4 76.5,660.1 80.5,659.2 84.5,658.9 88.5,658.8 92.5,658.7 96.5,658.9 100.5,659.5 104.5,660.9 108.5,662.8 112.5,665.0 116.5,667.1 120.5,668.9 124.5,670.9 128.5,673.2 132.5,675.6 136.5,677.8 140.5,679.6 144.5,681.0 148.5,682.0 152.5,682.9 156.5,683.9 160.5,684.8 164.5,685.5 168.5,686.1 172.5,686.7 176.5,687.3 180.5,687.9 184.5,688.6 188.5,689.5 192.5,690.5 196.5,692.0 200.5,693.6 204.5,695.3 208.5,696.7 212.5,697.8 216.5,698.5 220.5,698.7 224.5,698.6 228.5,698.2 232.5,697.0 236.5,695.5 240.5,693.6 244.5,691.6 248.5,689.5 252.5,687.5 256.5,685.7 260.5,684.0 264.5,682.4 268.5,680.9 272.5,679.7 276.5,678.6 280.5,677.7 284.5,676.6 288.5,675.6 292.5,674.7 296.5,673.9 300.5,673.1 304.5,672.5 308.5,672.0 312.5,671.6 316.5,672.0 320.5,672.9 324.5,674.0 328.5,675.5 332.5,676.9 336.5,678.3 340.5,679.7 344.5,681.0 348.5,682.2 352.5,682.8 356.5,683.2 360.5,683.3 364.5,683.3 368.5,683.2 372.5,683.1 376.5,683.0 380.5,683.2 384.5,683.7 388.5,684.4 392.5,685.3 396.5,686.2 400.5,687.0 404.5,687.9 408.5,689.0 412.5,690.1 416.5,691.3 420.5,692.4 424.5,693.9 428.5,695.5 432.5,697.3 436.5,699.3 440.5,701.4 444.5,703.4 448.5,705.3 452.5,706.5 456.5,707.0 460.5,706.5 464.5,705.2 468.5,703.4 472.5,700.6 476.5,697.0 480.5,692.8 484.5,688.0 488.5,683.2 492.5,678.4 496.5,673.8 500.5,669.6 504.5,665.9 508.5,663.3 512.5,661.0 516.5,658.9 520.5,657.5 524.5,656.9 528.5,656.9 532.5,657.3 536.5,657.8 540.5,658.2 544.5,658.6 548.5,659.0 552.5,659.6 556.5,659.7 560.5,659.2 564.5,658.3 568.5,657.3 572.5,656.4 576.5,655.6 580.5,654.9 584.5,654.6 588.5,654.9 592.5,656.1 596.5,658.2 600.5,661.2 604.5,664.6 608.5,668.2 612.5,672.0 616.5,675.6 620.5,678.7 624.5,681.2 628.5,682.4 632.5,682.2 636.5,680.9 640.5,679.2 644.5,676.8 648.5,673.5 652.5,668.8 656.5,663.6 660.5,657.8 664.5,652.6 668.5,648.2 672.5,644.0 676.5,640.1 680.5,636.7 684.5,634.4 688.5,633.2 692.5,633.3 696.5,633.9 700.5,635.3 704.5,636.4 708.5,638.0 712.5,639.4 716.5,641.4 720.5,643.5 724.5,646.1 728.5,648.9 732.5,652.0 736.5,654.9 740.5,658.2 744.5,661.3 748.5,664.0 752.5,666.0 756.5,667.6 760.5,668.6 764.5,668.9 768.5,668.6 772.5,668.1 776.5,667.3 780.5,666.5 784.5,665.9 788.5,665.4 792.5,665.1 796.5,665.0 800.5,664.7 804.5,664.2 808.5,663.5 812.5,662.7 816.5,661.9 820.5,661.4 824.5,661.1 828.5,660.8 832.5,660.3 836.5,660.5 840.5,661.0 844.5,661.7 848.5,662.3 852.5,662.7 856.5,663.0 860.5,663.1 864.5,663.1 868.5,663.1 872.5,662.7 876.5,662.2 880.5,661.6 884.5,661.1 888.5,660.3 892.5,659.4 896.5,658.4 900.5,657.2 904.5,656.4 908.5,656.3 912.5,656.7 916.5,657.5 920.5,659.0 924.5,661.6 928.5,664.6 932.5,668.0 936.5,671.7 940.5,675.2 944.5,678.4 948.5,681.1 952.5,683.4 956.5,685.0 960.5,686.0 964.5,686.4 968.5,686.5 972.5,686.3 976.5,686.1 980.5,685.9 984.5,685.8 988.5,685.5 992.5,685.1 996.5,684.7 1000.5,684.2 1004.5,683.8 1008.5,683.4 1012.5,682.9 1016.5,682.2 1020.5,681.6 1024.5,681.7 1028.5,682.4 1032.5,683.6 1036.5,685.3 1040.5,687.1 1044.5,688.8 1048.5,690.7 1052.5,692.6 1056.5,694.6 1060.5,696.3 1064.5,697.5 1068.5,698.3 1072.5,698.8 1076.5,699.1 1080.5,699.1 1084.5,698.7 1088.5,698.0 1092.5,696.8 1096.5,695.5 1100.5,694.1 1104.5,692.6 1108.5,691.0 1112.5,689.5 1116.5,688.3 1120.5,687.4 1124.5,686.9 1128.5,687.2 1132.5,687.8 1136.5,688.5 1140.5,689.1 1144.5,689.8 1148.5,690.6 1152.5,691.6 1156.5,692.5 1160.5,693.3 1164.5,693.7 1168.5,693.9 1172.5,694.4 1176.5,695.2 1180.5,696.0 1184.5,696.6 1188.5,696.9 1192.5,697.3 1196.5,697.5 1200.5,698.0 1204.5,698.6 1208.5,699.2 1212.5,699.9 1216.5,700.7 1220.5,701.9 1224.5,703.4 1228.5,704.8 1232.5,706.2 1236.5,707.4 1240.5,708.5 1244.5,709.0 1248.5,709.2 1252.5,709.2 1256.5,708.7 1260.5,707.9 1264.5,707.3 1268.5,706.8" fill="none" stroke="#ff0000" stroke-width="1" stroke-dasharray="3,3" shape-rendering="crispEdges"/>
</svg>
<svg width="1639" height="759" viewBox="0 0 1639 759" shape-rendering="crispEdges">
<rect x="3" y="22" width="1594" height="1" fill="#000"/>
<rect x="3" y="22" width="1" height="694" fill="#000"/>
<rect x="1596" y="22" width="1" height="694" fill="#000"/>
<rect x="3" y="527" width="1594" height="1" fill="#000"/>
<rect x="3" y="529" width="1594" height="1" fill="#000"/>
<rect x="3" y="621" width="1594" height="1" fill="#000"/>
<rect x="3" y="623" width="1594" height="1" fill="#000"/>
<rect x="3" y="715" width="1594" height="1" fill="#000"/>
<rect x="1597" y="29" width="2" height="1" fill="#000"/>
<rect x="1597" y="62" width="2" height="1" fill="#000"/>
<rect x="1597" y="95" width="2" height="1" fill="#000"/>
<rect x="1597" y="128" width="2" height="1" fill="#000"/>
<rect x="1597" y="161" width="2" height="1" fill="#000"/>
<rect x="1597" y="194" width="2" height="1" fill="#000"/>
<rect x="1597" y="227" width="2" height="1" fill="#000"/>
<rect x="1597" y="260" width="2" height="1" fill="#000"/>
<rect x="1597" y="293" width="2" height="1" fill="#000"/>
<rect x="1597" y="326" width="2" height="1" fill="#000"/>
<rect x="1597" y="359" width="2" height="1" fill="#000"/>
<rect x="1597" y="392" width="2" height="1" fill="#000"/>
<rect x="1597" y="425" width="2" height="1" fill="#000"/>
<rect x="1597" y="458" width="2" height="1" fill="#000"/>
<rect x="1597" y="491" width="2" height="1" fill="#000"/>
<rect x="1597" y="524" width="2" height="1" fill="#000"/>
<rect x="4" y="38" width="1592" height="2" fill="#ff0000"/>
<rect x="1598" y="33" width="41" height="11" fill="#ff0000"/>
<rect x="4" y="159" width="1592" height="2" fill="#ff0000"/>
<rect x="1598" y="154" width="41" height="11" fill="#ff0000"/>
<rect x="4" y="278" width="1592" height="2" fill="#00ff00"/>
<rect x="1598" y="273" width="41" height="11" fill="#00ff00"/>
<rect x="4" y="419" width="1592" height="2" fill="#0000ff"/>
<rect x="1598" y="414" width="41" height="11" fill="#0000ff"/>
<rect x="1598" y="509" width="41" height="11" fill="#000"/>
</svg>
<div class="t" style="left:42.8px;top:2px;font-size:9.8px;color:#3c3c3c;letter-spacing:0.25px;line-height:11px;will-change:transform;">M1</div>
<div class="t" style="left:71.1px;top:2px;font-size:9.8px;color:#3c3c3c;letter-spacing:0.25px;line-height:11px;will-change:transform;">M5</div>
<div class="t" style="left:97.0px;top:2px;font-size:9.8px;color:#3c3c3c;letter-spacing:0.25px;line-height:11px;will-change:transform;">M15</div>
<div class="t" style="left:125.3px;top:2px;font-size:9.8px;color:#3c3c3c;letter-spacing:0.25px;line-height:11px;will-change:transform;">M30</div>
<div class="t" style="left:155.9px;top:2px;font-size:9.8px;color:#3c3c3c;letter-spacing:0.25px;line-height:11px;will-change:transform;">H1</div>
<div class="t" style="left:182.8px;top:2px;font-size:9.8px;color:#3c3c3c;letter-spacing:0.25px;line-height:11px;will-change:transform;">H4</div>
<div class="t" style="left:212.1px;top:2px;font-size:9.8px;color:#3c3c3c;letter-spacing:0.25px;line-height:11px;will-change:transform;">D1</div>
<div class="t" style="left:240.1px;top:2px;font-size:9.8px;color:#3c3c3c;letter-spacing:0.25px;line-height:11px;will-change:transform;">W1</div>
<div class="t" style="left:266.1px;top:2px;font-size:9.8px;color:#3c3c3c;letter-spacing:0.25px;line-height:11px;will-change:transform;">MN</div>
<div class="t" style="left:1601.2px;top:25px;font-size:9.8px;color:#000;letter-spacing:-0.2px;line-height:11px;">7.21040</div>
<div class="t" style="left:1601.2px;top:58px;font-size:9.8px;color:#000;letter-spacing:-0.2px;line-height:11px;">7.18240</div>
<div class="t" style="left:1601.2px;top:91px;font-size:9.8px;color:#000;letter-spacing:-0.2px;line-height:11px;">7.15520</div>
<div class="t" style="left:1601.2px;top:124px;font-size:9.8px;color:#000;letter-spacing:-0.2px;line-height:11px;">7.12720</div>
<div class="t" style="left:1601.2px;top:190px;font-size:9.8px;color:#000;letter-spacing:-0.2px;line-height:11px;">7.07200</div>
<div class="t" style="left:1601.2px;top:223px;font-size:9.8px;color:#000;letter-spacing:-0.2px;line-height:11px;">7.04400</div>
<div class="t" style="left:1601.2px;top:256px;font-size:9.8px;color:#000;letter-spacing:-0.2px;line-height:11px;">7.01680</div>
<div class="t" style="left:1601.2px;top:289px;font-size:9.8px;color:#000;letter-spacing:-0.2px;line-height:11px;">6.98880</div>
<div class="t" style="left:1601.2px;top:322px;font-size:9.8px;color:#000;letter-spacing:-0.2px;line-height:11px;">6.96080</div>
<div class="t" style="left:1601.2px;top:355px;font-size:9.8px;color:#000;letter-spacing:-0.2px;line-height:11px;">6.93360</div>
<div class="t" style="left:1601.2px;top:388px;font-size:9.8px;color:#000;letter-spacing:-0.2px;line-height:11px;">6.90560</div>
<div class="t" style="left:1601.2px;top:421px;font-size:9.8px;color:#000;letter-spacing:-0.2px;line-height:11px;">6.87760</div>
<div class="t" style="left:1601.2px;top:454px;font-size:9.8px;color:#000;letter-spacing:-0.2px;line-height:11px;">6.85040</div>
<div class="t" style="left:1601.2px;top:487px;font-size:9.8px;color:#000;letter-spacing:-0.2px;line-height:11px;">6.82240</div>
<div class="t" style="left:1601.2px;top:520px;font-size:9.8px;color:#000;letter-spacing:-0.2px;line-height:11px;">6.79520</div>
<div class="t" style="left:1601.2px;top:34px;font-size:9.8px;color:#fff;letter-spacing:-0.2px;line-height:11px;">7.20193</div>
<div class="t" style="left:1601.2px;top:155px;font-size:9.8px;color:#fff;letter-spacing:-0.2px;line-height:11px;">7.10011</div>
<div class="t" style="left:1601.2px;top:274px;font-size:9.8px;color:#fff;letter-spacing:-0.2px;line-height:11px;">7.00029</div>
<div class="t" style="left:1601.2px;top:415px;font-size:9.8px;color:#fff;letter-spacing:-0.2px;line-height:11px;">6.88250</div>
<div class="t" style="left:1601.2px;top:510px;font-size:9.8px;color:#fff;letter-spacing:-0.2px;line-height:11px;">6.80362</div>
<div class="t" style="left:1600px;top:532px;font-size:9.8px;color:#000;letter-spacing:-0.3px;line-height:11px;">100</div>
<div class="t" style="left:1600px;top:553px;font-size:9.8px;color:#000;letter-spacing:-0.3px;line-height:11px;">70</div>
<div class="t" style="left:1600px;top:589px;font-size:9.8px;color:#000;letter-spacing:-0.3px;line-height:11px;">30</div>
<div class="t" style="left:1600px;top:610px;font-size:9.8px;color:#000;letter-spacing:-0.3px;line-height:11px;">0</div>
<div class="t" style="left:1600px;top:626px;font-size:9.8px;color:#000;letter-spacing:-0.3px;line-height:11px;">0.042118</div>
<div class="t" style="left:1600px;top:668px;font-size:9.8px;color:#000;letter-spacing:-0.3px;line-height:11px;">0.00</div>
<div class="t" style="left:1600px;top:704px;font-size:9.8px;color:#000;letter-spacing:-0.3px;line-height:11px;">-0.038198</div>
<div class="t" style="left:19.3px;top:26px;font-size:9.8px;color:#000;letter-spacing:0px;line-height:11px;">USDCNH,Daily</div>
<div class="t" style="left:90.5px;top:26px;font-size:9.8px;color:#000;letter-spacing:-0.24px;line-height:11px;">6.80592 6.81000 6.80266 6.80362</div>
<div class="t" style="left:8px;top:534px;font-size:9.8px;color:#000;letter-spacing:-0.3px;line-height:11px;">RSI(14) 25.7983</div>
<div class="t" style="left:7.9px;top:628px;font-size:9.8px;color:#000;letter-spacing:-0.22px;line-height:11px;">MACD(12,26,9) -0.029755 -0.030614</div>
<div class="t" style="left:2.7px;top:720px;font-size:9.8px;color:#000;letter-spacing:-0.18px;line-height:11px;">12 Sep 2019</div>
<div class="t" style="left:66.7px;top:720px;font-size:9.8px;color:#000;letter-spacing:-0.18px;line-height:11px;">1 Oct 2019</div>
<div class="t" style="left:130.7px;top:720px;font-size:9.8px;color:#000;letter-spacing:-0.18px;line-height:11px;">19 Oct 2019</div>
<div class="t" style="left:194.7px;top:720px;font-size:9.8px;color:#000;letter-spacing:-0.18px;line-height:11px;">7 Nov 2019</div>
<div class="t" style="left:258.7px;top:720px;font-size:9.8px;color:#000;letter-spacing:-0.18px;line-height:11px;">26 Nov 2019</div>
<div class="t" style="left:322.7px;top:720px;font-size:9.8px;color:#000;letter-spacing:-0.18px;line-height:11px;">14 Dec 2019</div>
<div class="t" style="left:386.7px;top:720px;font-size:9.8px;color:#000;letter-spacing:-0.18px;line-height:11px;">2 Jan 2020</div>
<div class="t" style="left:450.7px;top:720px;font-size:9.8px;color:#000;letter-spacing:-0.18px;line-height:11px;">21 Jan 2020</div>
<div class="t" style="left:514.7px;top:720px;font-size:9.8px;color:#000;letter-spacing:-0.18px;line-height:11px;">8 Feb 2020</div>
<div class="t" style="left:578.7px;top:720px;font-size:9.8px;color:#000;letter-spacing:-0.18px;line-height:11px;">27 Feb 2020</div>
<div class="t" style="left:642.7px;top:720px;font-size:9.8px;color:#000;letter-spacing:-0.18px;line-height:11px;">17 Mar 2020</div>
<div class="t" style="left:706.7px;top:720px;font-size:9.8px;color:#000;letter-spacing:-0.18px;line-height:11px;">4 Apr 2020</div>
<div class="t" style="left:770.7px;top:720px;font-size:9.8px;color:#000;letter-spacing:-0.18px;line-height:11px;">23 Apr 2020</div>
<div class="t" style="left:834.7px;top:720px;font-size:9.8px;color:#000;letter-spacing:-0.18px;line-height:11px;">12 May 2020</div>
<div class="t" style="left:898.7px;top:720px;font-size:9.8px;color:#000;letter-spacing:-0.18px;line-height:11px;">30 May 2020</div>
<div class="t" style="left:962.7px;top:720px;font-size:9.8px;color:#000;letter-spacing:-0.18px;line-height:11px;">18 Jun 2020</div>
<div class="t" style="left:1026.7px;top:720px;font-size:9.8px;color:#000;letter-spacing:-0.18px;line-height:11px;">7 Jul 2020</div>
<div class="t" style="left:1090.7px;top:720px;font-size:9.8px;color:#000;letter-spacing:-0.18px;line-height:11px;">25 Jul 2020</div>
<div class="t" style="left:1154.7px;top:720px;font-size:9.8px;color:#000;letter-spacing:-0.18px;line-height:11px;">13 Aug 2020</div>
<div class="t" style="left:1218.7px;top:720px;font-size:9.8px;color:#000;letter-spacing:-0.18px;line-height:11px;">1 Sep 2020</div>
<div class="t" style="left:16.7px;top:740px;font-size:12.5px;color:#808080;letter-spacing:-0.221px;line-height:16px;">EURUSD,Daily</div>
<div class="t" style="left:119.2px;top:740px;font-size:12.5px;color:#808080;letter-spacing:-0.172px;line-height:16px;">USDCHF,Daily</div>
<div class="t" style="left:219.7px;top:740px;font-size:12.5px;color:#808080;letter-spacing:-0.054px;line-height:16px;">AUDUSD,Daily</div>
<div class="t" style="left:323.4px;top:740px;font-size:12.5px;color:#808080;letter-spacing:-0.113px;line-height:16px;">USDCAD,Daily</div>
<div class="t" style="left:426.7px;top:740px;font-size:12.5px;color:#000;letter-spacing:-0.027px;line-height:16px;">USDCNH,Daily</div>
<div class="t" style="left:532.7px;top:740px;font-size:12.5px;color:#808080;letter-spacing:-0.221px;line-height:16px;">EURUSD,Daily</div>
<div class="t" style="left:636.4000000000001px;top:740px;font-size:12.5px;color:#808080;letter-spacing:-0.283px;line-height:16px;">GBPUSD,H4</div>
<div class="t" style="left:727.2px;top:740px;font-size:12.5px;color:#808080;letter-spacing:-0.184px;line-height:16px;">XAUUSD,H1</div>
<div class="t" style="left:819.7px;top:740px;font-size:12.5px;color:#808080;letter-spacing:0.024px;line-height:16px;">HK50,H1</div>
<div class="t" style="left:892.2px;top:740px;font-size:12.5px;color:#808080;letter-spacing:-0.011px;line-height:16px;">UK100,H1</div>
<div class="t" style="left:971.7px;top:740px;font-size:12.5px;color:#808080;letter-spacing:0.052px;line-height:16px;">UK100,H1</div>
<div class="t" style="left:1051.7px;top:740px;font-size:12.5px;color:#808080;letter-spacing:-0.293px;line-height:16px;">GER30,H1</div>
<div class="t" style="left:1130.7px;top:740px;font-size:12.5px;color:#808080;letter-spacing:-0.371px;line-height:16px;">FRA40,H1</div>
<div class="t" style="left:1206.7px;top:740px;font-size:12.5px;color:#808080;letter-spacing:-0.001px;line-height:16px;">USOil,H4</div>
<div class="t" style="left:1278.7px;top:740px;font-size:12.5px;color:#808080;letter-spacing:-0.363px;line-height:16px;">USDJPY,H1</div>
<div class="t" style="left:1362.7px;top:740px;font-size:12.5px;color:#808080;letter-spacing:-0.005px;line-height:16px;">DJ30,Daily</div>
<div class="t" style="left:1442.7px;top:740px;font-size:12.5px;color:#808080;letter-spacing:0.064px;line-height:16px;">CHINA300,H1</div>
<div class="t" style="left:1542.4px;top:740px;font-size:12.5px;color:#808080;letter-spacing:-0.088px;line-height:16px;">USOil,H1</div>
</body></html>
